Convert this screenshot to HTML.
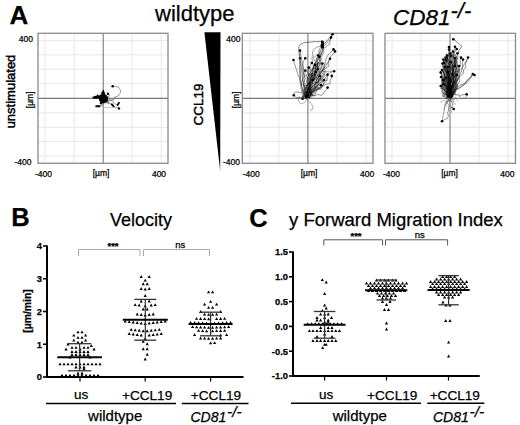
<!DOCTYPE html>
<html><head><meta charset="utf-8"><style>
html,body{margin:0;padding:0;background:#fff;overflow:hidden;}
svg{display:block;font-family:"Liberation Sans", sans-serif;}
text{stroke:#000;stroke-width:.25px;}
.med{stroke-width:.45px;}
</style></head><body>
<svg width="520" height="425" viewBox="0 0 520 425">
<rect width="520" height="425" fill="#fff"/>
<line x1="45.2" y1="33.3" x2="45.2" y2="163.3" stroke="#ebebeb" stroke-width="1.2"/>
<line x1="74.2" y1="33.3" x2="74.2" y2="163.3" stroke="#ebebeb" stroke-width="1.2"/>
<line x1="132.2" y1="33.3" x2="132.2" y2="163.3" stroke="#ebebeb" stroke-width="1.2"/>
<line x1="161.2" y1="33.3" x2="161.2" y2="163.3" stroke="#ebebeb" stroke-width="1.2"/>
<line x1="38" y1="40.7" x2="168" y2="40.7" stroke="#ebebeb" stroke-width="1.2"/>
<line x1="38" y1="54.9" x2="168" y2="54.9" stroke="#ebebeb" stroke-width="1.2"/>
<line x1="38" y1="69.1" x2="168" y2="69.1" stroke="#ebebeb" stroke-width="1.2"/>
<line x1="38" y1="83.5" x2="168" y2="83.5" stroke="#ebebeb" stroke-width="1.2"/>
<line x1="38" y1="112.9" x2="168" y2="112.9" stroke="#ebebeb" stroke-width="1.2"/>
<line x1="38" y1="127.3" x2="168" y2="127.3" stroke="#ebebeb" stroke-width="1.2"/>
<line x1="38" y1="141.6" x2="168" y2="141.6" stroke="#ebebeb" stroke-width="1.2"/>
<line x1="38" y1="155.9" x2="168" y2="155.9" stroke="#ebebeb" stroke-width="1.2"/>
<line x1="103.2" y1="33.3" x2="103.2" y2="163.3" stroke="#7a7a7a" stroke-width="1.1"/>
<line x1="38" y1="98.4" x2="168" y2="98.4" stroke="#7a7a7a" stroke-width="1.1"/>
<rect x="38" y="33.3" width="130" height="130" fill="none" stroke="#8a8a8a" stroke-width="1.3"/>
<line x1="249.9" y1="33.3" x2="249.9" y2="163.3" stroke="#ebebeb" stroke-width="1.2"/>
<line x1="278.9" y1="33.3" x2="278.9" y2="163.3" stroke="#ebebeb" stroke-width="1.2"/>
<line x1="336.9" y1="33.3" x2="336.9" y2="163.3" stroke="#ebebeb" stroke-width="1.2"/>
<line x1="365.9" y1="33.3" x2="365.9" y2="163.3" stroke="#ebebeb" stroke-width="1.2"/>
<line x1="242.3" y1="40.7" x2="373.0" y2="40.7" stroke="#ebebeb" stroke-width="1.2"/>
<line x1="242.3" y1="54.9" x2="373.0" y2="54.9" stroke="#ebebeb" stroke-width="1.2"/>
<line x1="242.3" y1="69.1" x2="373.0" y2="69.1" stroke="#ebebeb" stroke-width="1.2"/>
<line x1="242.3" y1="83.5" x2="373.0" y2="83.5" stroke="#ebebeb" stroke-width="1.2"/>
<line x1="242.3" y1="112.9" x2="373.0" y2="112.9" stroke="#ebebeb" stroke-width="1.2"/>
<line x1="242.3" y1="127.3" x2="373.0" y2="127.3" stroke="#ebebeb" stroke-width="1.2"/>
<line x1="242.3" y1="141.6" x2="373.0" y2="141.6" stroke="#ebebeb" stroke-width="1.2"/>
<line x1="242.3" y1="155.9" x2="373.0" y2="155.9" stroke="#ebebeb" stroke-width="1.2"/>
<line x1="307.9" y1="33.3" x2="307.9" y2="163.3" stroke="#7a7a7a" stroke-width="1.1"/>
<line x1="242.3" y1="98.4" x2="373.0" y2="98.4" stroke="#7a7a7a" stroke-width="1.1"/>
<rect x="242.3" y="33.3" width="130.7" height="130" fill="none" stroke="#8a8a8a" stroke-width="1.3"/>
<line x1="392.0" y1="33.3" x2="392.0" y2="163.3" stroke="#ebebeb" stroke-width="1.2"/>
<line x1="421.0" y1="33.3" x2="421.0" y2="163.3" stroke="#ebebeb" stroke-width="1.2"/>
<line x1="479.0" y1="33.3" x2="479.0" y2="163.3" stroke="#ebebeb" stroke-width="1.2"/>
<line x1="508.0" y1="33.3" x2="508.0" y2="163.3" stroke="#ebebeb" stroke-width="1.2"/>
<line x1="385" y1="40.7" x2="515.5" y2="40.7" stroke="#ebebeb" stroke-width="1.2"/>
<line x1="385" y1="54.9" x2="515.5" y2="54.9" stroke="#ebebeb" stroke-width="1.2"/>
<line x1="385" y1="69.1" x2="515.5" y2="69.1" stroke="#ebebeb" stroke-width="1.2"/>
<line x1="385" y1="83.5" x2="515.5" y2="83.5" stroke="#ebebeb" stroke-width="1.2"/>
<line x1="385" y1="112.9" x2="515.5" y2="112.9" stroke="#ebebeb" stroke-width="1.2"/>
<line x1="385" y1="127.3" x2="515.5" y2="127.3" stroke="#ebebeb" stroke-width="1.2"/>
<line x1="385" y1="141.6" x2="515.5" y2="141.6" stroke="#ebebeb" stroke-width="1.2"/>
<line x1="385" y1="155.9" x2="515.5" y2="155.9" stroke="#ebebeb" stroke-width="1.2"/>
<line x1="450" y1="33.3" x2="450" y2="163.3" stroke="#7a7a7a" stroke-width="1.1"/>
<line x1="385" y1="98.4" x2="515.5" y2="98.4" stroke="#7a7a7a" stroke-width="1.1"/>
<rect x="385" y="33.3" width="130.5" height="130" fill="none" stroke="#8a8a8a" stroke-width="1.3"/>
<path d="M112.7,86.2 Q121,86 120.5,92.6 Q119,97 114,97.5" fill="none" stroke="#555" stroke-width="0.6"/>
<path d="M99.5,106.3 Q104,106 104.5,102" fill="none" stroke="#666" stroke-width="0.6"/>
<path d="M104,107.5 L118,107.8" stroke="#aaa" stroke-width="0.6"/>
<path d="M104,101 Q110,102 114,99 Q117,97 114,97.5" fill="none" stroke="#888" stroke-width="0.6"/>
<path d="M104.0,99.0 L105.6,101.1 L107.2,101.6 L107.5,102.3 L111.8,104.3" fill="none" stroke="#666" stroke-width="0.5" stroke-opacity="1.0" stroke-linejoin="round"/>
<path d="M104.0,99.0 L109.3,100.1 L113.4,101.1 L113.3,103.4 L117.6,105.0" fill="none" stroke="#666" stroke-width="0.5" stroke-opacity="1.0" stroke-linejoin="round"/>
<path d="M104.0,99.0 L105.2,99.3 L108.1,102.2 L113.3,106.0 L119.0,108.5" fill="none" stroke="#666" stroke-width="0.5" stroke-opacity="1.0" stroke-linejoin="round"/>
<path d="M104.0,99.0 L105.8,98.8 L105.7,101.2 L108.0,102.5 L108.0,100.0" fill="none" stroke="#666" stroke-width="0.5" stroke-opacity="1.0" stroke-linejoin="round"/>
<path d="M104.0,99.0 L105.2,97.8 L108.3,97.4 L109.2,94.5 L110.0,96.0" fill="none" stroke="#666" stroke-width="0.5" stroke-opacity="1.0" stroke-linejoin="round"/>
<path d="M104.0,99.0 L104.1,100.7 L106.6,99.0 L108.4,102.9 L106.0,103.5" fill="none" stroke="#666" stroke-width="0.5" stroke-opacity="1.0" stroke-linejoin="round"/>
<path d="M104.0,99.0 L106.0,97.4 L109.2,97.3 L108.5,99.1 L112.0,101.0" fill="none" stroke="#666" stroke-width="0.5" stroke-opacity="1.0" stroke-linejoin="round"/>
<path d="M104.0,99.0 L108.5,101.1 L110.4,99.9 L113.3,100.1 L114.0,99.0" fill="none" stroke="#666" stroke-width="0.5" stroke-opacity="1.0" stroke-linejoin="round"/>
<path d="M104.0,99.0 L103.2,100.1 L106.8,98.1 L105.0,100.7 L109.0,104.0" fill="none" stroke="#666" stroke-width="0.5" stroke-opacity="1.0" stroke-linejoin="round"/>
<path d="M99.6,95 Q102,93.8 105,94.2 Q108.2,95.5 108,99 Q107.8,102.8 104,103.2 Q100.2,103.4 99.2,100.6 Q98.6,97.5 99.6,95 Z" fill="#000"/>
<path d="M92.2,97.4 Q93.5,95.6 96.5,95.8 L97.5,94.2 L98.6,95.6 L100.5,95.6 L100.5,98.6 L96,98.8 Q93,99 92.2,97.4 Z" fill="#000"/>
<path d="M101,93 L103.6,89.6 L105,93.2 L104.6,95.4 L102.4,95.4 Z" fill="#000"/>
<circle cx="107.9" cy="93.8" r="1.2" fill="#000"/>
<circle cx="112.7" cy="86.2" r="1.3" fill="#000"/>
<path d="M96.2,106.2 L99.6,106.2" stroke="#000" stroke-width="1.9" stroke-linecap="round"/>
<path d="M111.8,104.3 L113.6,106.3" stroke="#000" stroke-width="1.8" stroke-linecap="round"/>
<path d="M117.6,105 L119,102.8" stroke="#000" stroke-width="1.8" stroke-linecap="round"/>
<circle cx="119" cy="108.5" r="1.2" fill="#000"/>
<circle cx="101.1" cy="103.3" r="1.2" fill="#000"/>
<path d="M306.0,97.8 L309.4,95.3 L311.0,93.3 L315.3,91.7 L317.4,89.9 L315.3,89.7 L318.4,87.9" fill="none" stroke="#222" stroke-width="0.45" stroke-opacity="0.55" stroke-linejoin="round"/><path d="M318.4,87.9 L316.3,82.1 L319.9,73.8 L321.5,71.4 L320.8,70.1 L323.8,65.3 L326.4,62.1" fill="none" stroke="#222" stroke-width="0.45" stroke-opacity="0.55" stroke-linejoin="round"/>
<path d="M304.5,97.3 L303.3,96.9 L306.9,93.7 L304.7,91.1 L305.1,88.1 L308.5,83.7 L311.7,78.7" fill="none" stroke="#222" stroke-width="0.45" stroke-opacity="0.55" stroke-linejoin="round"/><path d="M311.7,78.7 L311.4,76.3 L314.9,74.4 L316.9,70.9 L318.5,68.4 L319.4,65.3 L321.8,61.6" fill="none" stroke="#222" stroke-width="0.45" stroke-opacity="0.55" stroke-linejoin="round"/>
<path d="M307.0,96.8 L307.3,95.3 L306.9,92.8 L311.0,84.2 L309.0,81.4 L310.2,78.5 L309.6,76.5" fill="none" stroke="#222" stroke-width="0.45" stroke-opacity="0.55" stroke-linejoin="round"/><path d="M309.6,76.5 L310.3,76.2 L315.3,77.7 L314.3,78.2 L313.9,78.8 L308.4,78.5 L310.5,76.9" fill="none" stroke="#222" stroke-width="0.45" stroke-opacity="0.55" stroke-linejoin="round"/>
<path d="M306.6,98.1 L306.0,97.0 L308.3,89.2 L310.6,83.9 L312.0,78.5 L312.4,78.6 L312.2,76.6" fill="none" stroke="#222" stroke-width="0.45" stroke-opacity="0.55" stroke-linejoin="round"/><path d="M312.2,76.6 L312.1,76.3 L310.2,78.8 L310.7,77.6 L314.6,74.6 L314.8,73.5 L313.3,74.3" fill="none" stroke="#222" stroke-width="0.45" stroke-opacity="0.55" stroke-linejoin="round"/>
<path d="M307.9,97.5 L305.8,90.4 L308.4,87.8 L311.4,81.8 L311.4,75.4 L313.0,74.6 L311.1,73.7" fill="none" stroke="#222" stroke-width="0.45" stroke-opacity="0.55" stroke-linejoin="round"/><path d="M311.1,73.7 L314.4,73.4 L311.6,76.4 L312.6,75.3 L314.7,76.3 L318.9,74.3 L322.5,77.5" fill="none" stroke="#222" stroke-width="0.45" stroke-opacity="0.55" stroke-linejoin="round"/>
<path d="M305.0,96.5 L311.8,93.0 L311.1,89.1 L311.2,87.8 L315.7,83.5 L319.6,82.2 L323.7,81.8" fill="none" stroke="#222" stroke-width="0.45" stroke-opacity="0.55" stroke-linejoin="round"/><path d="M323.7,81.8 L323.9,80.6 L327.3,80.5 L326.3,78.9 L322.8,73.3 L319.2,72.1 L317.0,68.7" fill="none" stroke="#222" stroke-width="0.45" stroke-opacity="0.55" stroke-linejoin="round"/>
<path d="M304.5,98.1 L307.9,94.9 L309.7,87.1 L310.9,84.0 L309.8,77.6 L314.1,73.9 L316.4,70.3" fill="none" stroke="#222" stroke-width="0.45" stroke-opacity="0.55" stroke-linejoin="round"/><path d="M316.4,70.3 L318.5,67.1 L317.1,65.0 L320.8,63.1 L320.7,60.7 L319.4,59.6 L318.8,59.6" fill="none" stroke="#222" stroke-width="0.45" stroke-opacity="0.55" stroke-linejoin="round"/>
<path d="M308.3,97.0 L304.5,94.1 L305.9,92.1 L308.3,92.5 L310.4,92.1 L313.9,92.3 L315.6,86.9" fill="none" stroke="#222" stroke-width="0.45" stroke-opacity="0.55" stroke-linejoin="round"/><path d="M315.6,86.9 L317.5,87.2 L317.0,83.9 L321.0,77.9 L321.9,80.5 L320.1,79.5 L324.0,76.9" fill="none" stroke="#222" stroke-width="0.45" stroke-opacity="0.55" stroke-linejoin="round"/>
<path d="M305.3,97.1 L305.3,94.4 L303.3,91.4 L305.3,89.3 L303.6,85.3 L309.2,85.4 L310.6,77.8" fill="none" stroke="#222" stroke-width="0.45" stroke-opacity="0.55" stroke-linejoin="round"/><path d="M310.6,77.8 L312.8,75.2 L317.2,72.4 L318.0,69.9 L315.0,68.4 L316.6,63.4 L320.3,63.5" fill="none" stroke="#222" stroke-width="0.45" stroke-opacity="0.55" stroke-linejoin="round"/>
<path d="M307.3,97.4 L312.7,96.7 L311.5,91.1 L316.1,90.3 L321.0,89.2 L320.4,86.9 L317.1,82.6" fill="none" stroke="#222" stroke-width="0.45" stroke-opacity="0.55" stroke-linejoin="round"/><path d="M317.1,82.6 L316.1,79.0 L313.7,74.1 L313.8,70.1 L314.2,65.9 L312.6,62.8 L311.8,56.4" fill="none" stroke="#222" stroke-width="0.45" stroke-opacity="0.55" stroke-linejoin="round"/>
<path d="M305.5,96.5 L307.5,90.3 L310.7,88.7 L313.9,84.6 L317.1,79.0 L315.6,75.4 L316.0,73.2" fill="none" stroke="#222" stroke-width="0.45" stroke-opacity="0.55" stroke-linejoin="round"/><path d="M316.0,73.2 L314.4,65.2 L312.9,65.8 L312.7,60.4 L311.7,58.9 L313.3,56.6 L316.9,55.5" fill="none" stroke="#222" stroke-width="0.45" stroke-opacity="0.55" stroke-linejoin="round"/>
<path d="M308.0,97.8 L307.9,92.6 L307.6,88.0 L309.0,83.1 L308.9,81.6 L311.7,74.4 L312.1,72.9" fill="none" stroke="#222" stroke-width="0.45" stroke-opacity="0.55" stroke-linejoin="round"/><path d="M312.1,72.9 L310.8,74.3 L312.3,73.9 L309.3,73.8 L309.5,75.7 L310.5,75.4 L311.7,76.0" fill="none" stroke="#222" stroke-width="0.45" stroke-opacity="0.55" stroke-linejoin="round"/>
<path d="M306.8,97.6 L306.8,91.4 L305.9,84.0 L304.4,82.0 L305.5,78.7 L305.0,72.6 L308.7,70.4" fill="none" stroke="#222" stroke-width="0.45" stroke-opacity="0.55" stroke-linejoin="round"/><path d="M308.7,70.4 L312.6,68.6 L313.9,64.9 L317.3,66.7 L315.1,66.6 L318.1,63.0 L316.1,60.8" fill="none" stroke="#222" stroke-width="0.45" stroke-opacity="0.55" stroke-linejoin="round"/>
<path d="M305.0,97.2 L311.0,97.8 L311.2,95.0 L311.9,91.1 L314.7,89.3 L318.6,84.3 L318.9,82.5" fill="none" stroke="#222" stroke-width="0.45" stroke-opacity="0.55" stroke-linejoin="round"/><path d="M318.9,82.5 L318.1,78.8 L317.5,74.2 L318.5,71.8 L317.9,67.4 L317.0,58.8 L314.6,55.8" fill="none" stroke="#222" stroke-width="0.45" stroke-opacity="0.55" stroke-linejoin="round"/>
<path d="M307.1,96.7 L309.5,96.2 L310.9,92.8 L312.0,91.0 L315.0,89.9 L315.0,85.5 L315.7,82.3" fill="none" stroke="#222" stroke-width="0.45" stroke-opacity="0.55" stroke-linejoin="round"/><path d="M315.7,82.3 L313.8,81.1 L313.3,80.4 L314.8,78.6 L319.9,76.9 L322.6,76.2 L325.3,70.4" fill="none" stroke="#222" stroke-width="0.45" stroke-opacity="0.55" stroke-linejoin="round"/>
<path d="M305.3,97.7 L307.5,95.5 L309.2,91.1 L310.9,84.8 L313.9,78.6 L315.0,78.9 L315.2,74.8" fill="none" stroke="#222" stroke-width="0.45" stroke-opacity="0.55" stroke-linejoin="round"/><path d="M315.2,74.8 L316.7,74.7 L314.2,75.1 L314.5,76.4 L312.0,79.8 L314.5,79.7 L314.2,78.6" fill="none" stroke="#222" stroke-width="0.45" stroke-opacity="0.55" stroke-linejoin="round"/>
<path d="M306.0,97.3 L311.0,93.0 L311.8,90.5 L314.0,86.9 L319.4,85.0 L320.6,85.4 L322.8,82.8" fill="none" stroke="#222" stroke-width="0.45" stroke-opacity="0.55" stroke-linejoin="round"/><path d="M322.8,82.8 L322.9,79.9 L320.6,80.8 L324.8,75.5 L323.1,69.4 L326.8,65.7 L328.0,62.2" fill="none" stroke="#222" stroke-width="0.45" stroke-opacity="0.55" stroke-linejoin="round"/>
<path d="M305.6,96.6 L309.5,92.9 L310.5,90.1 L312.4,90.1 L316.8,86.7 L318.8,82.0 L319.7,78.1" fill="none" stroke="#222" stroke-width="0.45" stroke-opacity="0.55" stroke-linejoin="round"/><path d="M319.7,78.1 L320.3,77.5 L321.5,80.2 L320.1,78.6 L325.8,73.2 L324.7,71.9 L325.1,71.1" fill="none" stroke="#222" stroke-width="0.45" stroke-opacity="0.55" stroke-linejoin="round"/>
<path d="M305.7,97.0 L304.9,90.5 L307.6,83.7 L308.3,79.9 L309.8,76.1 L313.8,71.7 L317.3,66.6" fill="none" stroke="#000" stroke-width="0.5" stroke-opacity="0.8" stroke-linejoin="round"/><path d="M317.3,66.6 L317.3,61.1 L320.6,54.7 L323.0,50.6 L323.9,46.3 L329.8,39.9 L332.6,34.2" fill="none" stroke="#000" stroke-width="0.5" stroke-opacity="0.8" stroke-linejoin="round"/><circle cx="332.6" cy="34.2" r="1.3" fill="#000"/>
<path d="M307.7,97.4 L309.2,93.2 L307.5,91.6 L310.7,84.3 L313.5,79.8 L315.9,76.3 L314.7,71.7" fill="none" stroke="#000" stroke-width="0.5" stroke-opacity="0.8" stroke-linejoin="round"/><path d="M314.7,71.7 L319.9,64.8 L320.6,56.6 L320.9,51.3 L326.5,46.3 L329.4,44.4 L331.0,37.4" fill="none" stroke="#000" stroke-width="0.5" stroke-opacity="0.8" stroke-linejoin="round"/><circle cx="331.0" cy="37.4" r="1.3" fill="#000"/>
<path d="M306.9,97.9 L308.4,93.5 L307.0,88.3 L306.9,84.3 L307.7,79.4 L308.0,76.4 L311.4,70.9" fill="none" stroke="#000" stroke-width="0.5" stroke-opacity="0.8" stroke-linejoin="round"/><path d="M311.4,70.9 L314.7,64.7 L316.6,61.1 L321.1,55.5 L322.8,50.9 L321.8,46.0 L322.4,41.8" fill="none" stroke="#000" stroke-width="0.5" stroke-opacity="0.8" stroke-linejoin="round"/><circle cx="322.4" cy="41.8" r="1.3" fill="#000"/>
<path d="M305.7,96.6 L306.1,95.5 L307.0,91.7 L309.3,86.2 L309.5,83.4 L312.4,80.4 L314.4,76.6" fill="none" stroke="#000" stroke-width="0.5" stroke-opacity="0.8" stroke-linejoin="round"/><path d="M314.4,76.6 L316.6,73.2 L317.1,71.1 L317.6,64.8 L319.6,60.3 L319.0,50.2 L321.8,45.3" fill="none" stroke="#000" stroke-width="0.5" stroke-opacity="0.8" stroke-linejoin="round"/><circle cx="321.8" cy="45.3" r="1.3" fill="#000"/>
<path d="M305.4,96.6 L307.0,94.9 L309.9,90.4 L309.1,81.9 L310.5,78.9 L312.1,80.4 L312.0,77.6" fill="none" stroke="#000" stroke-width="0.5" stroke-opacity="0.8" stroke-linejoin="round"/><path d="M312.0,77.6 L312.9,70.9 L313.5,66.8 L315.4,61.6 L316.8,58.0 L319.5,52.5 L322.5,47.0" fill="none" stroke="#000" stroke-width="0.5" stroke-opacity="0.8" stroke-linejoin="round"/><circle cx="322.5" cy="47.0" r="1.3" fill="#000"/>
<path d="M307.5,97.4 L311.6,93.7 L310.9,92.3 L313.7,89.7 L316.2,85.1 L315.6,82.6 L317.8,77.8" fill="none" stroke="#000" stroke-width="0.5" stroke-opacity="0.8" stroke-linejoin="round"/><path d="M317.8,77.8 L320.5,73.4 L323.8,68.1 L325.8,59.7 L327.1,56.3 L331.6,51.1 L333.5,49.4" fill="none" stroke="#000" stroke-width="0.5" stroke-opacity="0.8" stroke-linejoin="round"/><circle cx="333.5" cy="49.4" r="1.3" fill="#000"/>
<path d="M305.0,98.0 L308.7,92.8 L310.6,88.7 L312.3,86.7 L318.1,81.6 L318.6,78.5 L318.2,75.4" fill="none" stroke="#000" stroke-width="0.5" stroke-opacity="0.8" stroke-linejoin="round"/><path d="M318.2,75.4 L321.8,71.9 L325.3,66.2 L329.2,60.5 L330.5,56.5 L332.3,55.1 L335.0,51.4" fill="none" stroke="#000" stroke-width="0.5" stroke-opacity="0.8" stroke-linejoin="round"/><circle cx="335.0" cy="51.4" r="1.3" fill="#000"/>
<path d="M304.9,97.5 L304.3,91.4 L303.7,85.6 L302.8,79.6 L303.0,73.7 L302.7,67.9 L302.2,62.1 L300.9,56.3 L300.0,50.6" fill="none" stroke="#000" stroke-width="0.5" stroke-opacity="0.8" stroke-linejoin="round"/><circle cx="300.0" cy="50.6" r="1.3" fill="#000"/>
<path d="M305.3,97.5 L303.4,92.5 L302.0,87.2 L300.4,82.4 L299.2,77.6 L297.3,72.9 L295.9,68.0 L294.4,63.8 L293.5,60.0" fill="none" stroke="#000" stroke-width="0.5" stroke-opacity="0.8" stroke-linejoin="round"/><circle cx="293.5" cy="60.0" r="1.3" fill="#000"/>
<path d="M305.7,97.5 L304.7,93.0 L304.4,88.1 L303.8,84.0 L302.3,78.0 L301.9,73.4 L301.5,67.8 L300.8,62.9 L300.0,58.2" fill="none" stroke="#000" stroke-width="0.5" stroke-opacity="0.8" stroke-linejoin="round"/><circle cx="300.0" cy="58.2" r="1.3" fill="#000"/>
<path d="M306.7,98.4 L304.3,98.3 L303.0,96.1 L303.7,89.2 L305.7,88.1 L304.8,84.6 L304.1,82.7" fill="none" stroke="#000" stroke-width="0.5" stroke-opacity="0.8" stroke-linejoin="round"/><path d="M304.1,82.7 L304.9,78.7 L303.2,72.0 L303.7,67.0 L302.9,64.2 L303.9,60.4 L305.3,58.2" fill="none" stroke="#000" stroke-width="0.5" stroke-opacity="0.8" stroke-linejoin="round"/><circle cx="305.3" cy="58.2" r="1.3" fill="#000"/>
<path d="M305.3,97.3 L304.4,93.2 L306.9,90.5 L307.8,85.4 L309.0,83.6 L312.0,79.9 L312.1,75.9" fill="none" stroke="#000" stroke-width="0.5" stroke-opacity="0.8" stroke-linejoin="round"/><path d="M312.1,75.9 L309.7,73.9 L312.1,70.1 L313.7,69.1 L314.5,65.6 L316.7,60.7 L318.2,55.3" fill="none" stroke="#000" stroke-width="0.5" stroke-opacity="0.8" stroke-linejoin="round"/><circle cx="318.2" cy="55.3" r="1.3" fill="#000"/>
<path d="M305.5,96.5 L305.2,92.9 L308.0,89.7 L308.9,85.7 L310.0,82.9 L311.7,82.2 L314.6,79.0" fill="none" stroke="#000" stroke-width="0.5" stroke-opacity="0.8" stroke-linejoin="round"/><path d="M314.6,79.0 L311.5,74.5 L312.8,69.4 L316.0,67.8 L318.2,62.7 L322.2,59.2 L319.4,57.0" fill="none" stroke="#000" stroke-width="0.5" stroke-opacity="0.8" stroke-linejoin="round"/><circle cx="319.4" cy="57.0" r="1.3" fill="#000"/>
<path d="M305.5,98.1 L307.8,96.4 L311.7,90.1 L314.2,87.7 L314.4,85.5 L315.8,82.6 L317.8,82.0" fill="none" stroke="#000" stroke-width="0.5" stroke-opacity="0.8" stroke-linejoin="round"/><path d="M317.8,82.0 L320.3,77.5 L319.6,72.2 L325.0,68.8 L328.9,66.2 L328.6,61.2 L330.0,58.8" fill="none" stroke="#000" stroke-width="0.5" stroke-opacity="0.8" stroke-linejoin="round"/><circle cx="330.0" cy="58.8" r="1.3" fill="#000"/>
<path d="M307.0,97.4 L307.0,94.5 L305.8,90.1 L306.4,90.1 L307.1,85.1 L308.3,84.0 L309.4,81.5" fill="none" stroke="#000" stroke-width="0.5" stroke-opacity="0.8" stroke-linejoin="round"/><path d="M309.4,81.5 L308.3,78.5 L305.9,75.9 L308.0,73.1 L310.2,71.2 L310.2,65.7 L311.8,63.0" fill="none" stroke="#000" stroke-width="0.5" stroke-opacity="0.8" stroke-linejoin="round"/><circle cx="311.8" cy="63.0" r="1.3" fill="#000"/>
<path d="M305.4,98.2 L307.7,95.9 L307.5,92.6 L308.9,90.2 L312.0,86.9 L313.0,87.4 L312.9,84.9" fill="none" stroke="#000" stroke-width="0.5" stroke-opacity="0.8" stroke-linejoin="round"/><path d="M312.9,84.9 L312.4,81.8 L315.7,79.4 L316.4,77.1 L319.0,73.1 L321.3,67.0 L322.4,63.5" fill="none" stroke="#000" stroke-width="0.5" stroke-opacity="0.8" stroke-linejoin="round"/><circle cx="322.4" cy="63.5" r="1.3" fill="#000"/>
<path d="M305.5,96.8 L308.8,93.4 L310.4,90.3 L311.3,87.0 L309.5,84.1 L307.9,84.5 L306.4,81.3" fill="none" stroke="#000" stroke-width="0.5" stroke-opacity="0.8" stroke-linejoin="round"/><path d="M306.4,81.3 L307.7,77.7 L310.8,74.7 L308.9,73.7 L308.9,76.2 L308.0,72.5 L308.8,67.6" fill="none" stroke="#000" stroke-width="0.5" stroke-opacity="0.8" stroke-linejoin="round"/><circle cx="308.8" cy="67.6" r="1.3" fill="#000"/>
<path d="M305.1,98.1 L305.4,97.7 L308.1,94.5 L307.6,90.2 L308.4,87.3 L310.2,86.3 L308.5,84.2" fill="none" stroke="#000" stroke-width="0.5" stroke-opacity="0.8" stroke-linejoin="round"/><path d="M308.5,84.2 L310.8,80.0 L312.6,78.9 L314.2,75.2 L315.2,72.2 L315.9,69.6 L315.3,64.7" fill="none" stroke="#000" stroke-width="0.5" stroke-opacity="0.8" stroke-linejoin="round"/><circle cx="315.3" cy="64.7" r="1.3" fill="#000"/>
<path d="M306.4,96.8 L307.6,95.5 L308.0,95.3 L305.5,91.8 L305.8,89.2 L305.7,88.7 L304.2,86.1" fill="none" stroke="#000" stroke-width="0.5" stroke-opacity="0.8" stroke-linejoin="round"/><path d="M304.2,86.1 L304.0,85.3 L301.4,83.8 L302.6,79.5 L304.4,76.2 L303.9,72.9 L305.3,70.6" fill="none" stroke="#000" stroke-width="0.5" stroke-opacity="0.8" stroke-linejoin="round"/><circle cx="305.3" cy="70.6" r="1.3" fill="#000"/>
<path d="M306.7,98.4 L309.7,97.2 L310.4,93.8 L310.7,89.1 L313.7,88.4 L315.9,86.8 L320.6,82.7" fill="none" stroke="#000" stroke-width="0.5" stroke-opacity="0.8" stroke-linejoin="round"/><path d="M320.6,82.7 L322.8,80.7 L326.7,76.4 L326.0,75.2 L327.0,73.7 L330.3,72.7 L334.1,71.2" fill="none" stroke="#000" stroke-width="0.5" stroke-opacity="0.8" stroke-linejoin="round"/><circle cx="334.1" cy="71.2" r="1.3" fill="#000"/>
<path d="M307.5,97.9 L309.9,98.0 L309.5,97.1 L310.6,94.8 L310.3,89.0 L313.6,90.4 L317.5,88.4" fill="none" stroke="#000" stroke-width="0.5" stroke-opacity="0.8" stroke-linejoin="round"/><path d="M317.5,88.4 L319.1,88.7 L323.3,84.9 L322.9,85.5 L323.7,84.0 L327.2,79.9 L327.6,74.7" fill="none" stroke="#000" stroke-width="0.5" stroke-opacity="0.8" stroke-linejoin="round"/><circle cx="327.6" cy="74.7" r="1.3" fill="#000"/>
<path d="M307.5,97.9 L310.7,95.3 L312.2,91.8 L313.7,91.9 L315.2,90.2 L318.0,88.6 L320.8,87.6" fill="none" stroke="#000" stroke-width="0.5" stroke-opacity="0.8" stroke-linejoin="round"/><path d="M320.8,87.6 L323.9,85.5 L325.8,84.4 L330.2,83.7 L330.0,80.3 L331.6,78.2 L331.8,75.9" fill="none" stroke="#000" stroke-width="0.5" stroke-opacity="0.8" stroke-linejoin="round"/><circle cx="331.8" cy="75.9" r="1.3" fill="#000"/>
<path d="M307.7,96.6 L310.3,93.9 L311.0,93.8 L311.1,94.8 L314.4,95.8 L315.3,93.6 L316.3,91.5" fill="none" stroke="#000" stroke-width="0.5" stroke-opacity="0.8" stroke-linejoin="round"/><path d="M316.3,91.5 L317.1,89.8 L320.5,88.9 L321.9,87.8 L322.6,85.4 L323.5,84.3 L324.1,80.0" fill="none" stroke="#000" stroke-width="0.5" stroke-opacity="0.8" stroke-linejoin="round"/><circle cx="324.1" cy="80.0" r="1.3" fill="#000"/>
<path d="M306.5,98.2 L307.4,97.1 L306.9,97.4 L308.4,95.0 L309.0,92.1 L310.9,94.8 L314.9,95.8" fill="none" stroke="#000" stroke-width="0.5" stroke-opacity="0.8" stroke-linejoin="round"/><path d="M314.9,95.8 L317.5,94.2 L320.9,95.4 L323.5,93.7 L323.9,92.1 L326.8,89.3 L327.6,87.6" fill="none" stroke="#000" stroke-width="0.5" stroke-opacity="0.8" stroke-linejoin="round"/><circle cx="327.6" cy="87.6" r="1.3" fill="#000"/>
<path d="M306.5,97.5 L304.6,96.6 L303.2,96.1 L301.3,97.8 L298.4,97.7 L295.7,97.3 L293.8,95.3" fill="none" stroke="#000" stroke-width="0.5" stroke-opacity="0.8" stroke-linejoin="round"/><circle cx="293.8" cy="95.3" r="1.3" fill="#000"/>
<path d="M306.5,97.5 L306.2,95.2 L304.7,95.6 L301.9,96.6 L303.4,97.3 L303.5,96.8 L302.6,98.8" fill="none" stroke="#000" stroke-width="0.5" stroke-opacity="0.8" stroke-linejoin="round"/><circle cx="302.6" cy="98.8" r="1.3" fill="#000"/>
<path d="M307.7,97.0 L306.4,96.6 L307.3,92.7 L307.2,90.4 L307.6,90.4 L310.0,87.3 L310.8,85.3" fill="none" stroke="#000" stroke-width="0.5" stroke-opacity="0.8" stroke-linejoin="round"/><path d="M310.8,85.3 L310.0,83.5 L311.3,80.1 L309.8,78.0 L312.1,76.2 L313.3,75.8 L316.0,72.0" fill="none" stroke="#000" stroke-width="0.5" stroke-opacity="0.8" stroke-linejoin="round"/><circle cx="316.0" cy="72.0" r="1.3" fill="#000"/>
<path d="M306.0,97.5 L307.5,96.1 L310.1,97.9 L310.6,94.2 L312.1,91.3 L309.0,91.9 L310.5,86.3" fill="none" stroke="#000" stroke-width="0.5" stroke-opacity="0.8" stroke-linejoin="round"/><path d="M310.5,86.3 L311.2,85.2 L312.4,82.9 L314.7,83.1 L318.3,81.9 L320.8,77.6 L320.0,76.0" fill="none" stroke="#000" stroke-width="0.5" stroke-opacity="0.8" stroke-linejoin="round"/><circle cx="320.0" cy="76.0" r="1.3" fill="#000"/>
<path d="M306.8,97.3 L307.1,93.0 L305.5,93.6 L306.0,91.3 L307.0,93.7 L309.8,91.2 L309.2,87.5" fill="none" stroke="#000" stroke-width="0.5" stroke-opacity="0.8" stroke-linejoin="round"/><path d="M309.2,87.5 L309.8,84.2 L310.0,83.6 L311.2,82.0 L310.2,82.6 L311.3,79.1 L313.0,80.0" fill="none" stroke="#000" stroke-width="0.5" stroke-opacity="0.8" stroke-linejoin="round"/><circle cx="313.0" cy="80.0" r="1.3" fill="#000"/>
<path d="M306.2,97.9 L308.5,96.3 L307.9,92.7 L307.5,93.0 L309.2,91.9 L309.4,90.6 L311.4,85.4" fill="none" stroke="#000" stroke-width="0.5" stroke-opacity="0.8" stroke-linejoin="round"/><path d="M311.4,85.4 L312.7,83.6 L312.8,81.0 L314.5,77.2 L314.4,73.0 L314.7,71.1 L318.0,69.0" fill="none" stroke="#000" stroke-width="0.5" stroke-opacity="0.8" stroke-linejoin="round"/><circle cx="318.0" cy="69.0" r="1.3" fill="#000"/>
<path d="M307.3,96.7 L310.0,95.5 L312.4,94.9 L313.2,93.9 L312.7,93.8 L313.2,91.1 L314.1,91.2" fill="none" stroke="#000" stroke-width="0.5" stroke-opacity="0.8" stroke-linejoin="round"/><path d="M314.1,91.2 L315.3,87.6 L315.4,88.0 L317.4,86.9 L319.0,88.5 L321.0,85.9 L321.0,85.0" fill="none" stroke="#000" stroke-width="0.5" stroke-opacity="0.8" stroke-linejoin="round"/><circle cx="321.0" cy="85.0" r="1.3" fill="#000"/>
<path d="M304,96 Q299,80 300.5,62 Q298.5,52 298.8,46.5 Q300,43 306,42.5 Q314,41.5 322,41.5" fill="none" stroke="#333" stroke-width="0.6"/>
<path d="M303,97 Q298,80 300,50.6" fill="none" stroke="#444" stroke-width="0.5"/>
<path d="M322,46 Q313,47 312.5,53 Q313,60 316,62 Q322,58 324,52 Q324,48 322,46" fill="none" stroke="#777" stroke-width="0.7"/>
<path d="M302,93 Q293,90 293.8,95.3" fill="none" stroke="#444" stroke-width="0.6"/>
<path d="M306,99 Q313,104 313,108 Q312,111 310,110" fill="none" stroke="#555" stroke-width="0.5"/>
<path d="M300,96 Q296,100 301,104 Q306,103 307,99" fill="none" stroke="#666" stroke-width="0.5"/>
<path d="M334.1,71.2 L322,71.5" fill="none" stroke="#555" stroke-width="0.5"/>
<path d="M332.6,34.2 L322.5,46" fill="none" stroke="#222" stroke-width="0.6"/>
<path d="M306,96 L308,84 L311,70 L315,62 L323,63 L326,72 L321,86 L312,97 Z" fill="#000" fill-opacity="0.15"/>
<path d="M321,40.5 L324,42 L324,48 L321,48.5 Z" fill="#000"/>
<path d="M450.3,97.0 L451.5,91.3 L449.7,83.9 L450.3,77.1 L449.7,73.4 L451.5,69.9 L449.7,66.7 L449.5,62.7 L449.3,58.8 L449.3,53.5 L449.0,47.0" fill="none" stroke="#000" stroke-width="0.5" stroke-opacity="0.85" stroke-linejoin="round"/><circle cx="449.0" cy="47.0" r="1.3" fill="#000"/>
<path d="M448.7,97.1 L447.3,93.0 L446.0,87.1 L443.9,85.2 L444.2,80.5 L445.6,73.5 L445.8,68.4 L446.8,62.4 L447.0,58.1 L449.0,53.2 L449.0,49.5" fill="none" stroke="#000" stroke-width="0.5" stroke-opacity="0.85" stroke-linejoin="round"/><circle cx="449.0" cy="49.5" r="1.3" fill="#000"/>
<path d="M448.2,97.0 L448.4,91.6 L450.1,90.0 L450.3,85.1 L451.7,79.9 L452.1,73.8 L454.0,68.2 L454.5,63.3 L453.8,57.6 L453.7,52.1 L455.0,46.8" fill="none" stroke="#000" stroke-width="0.5" stroke-opacity="0.85" stroke-linejoin="round"/><circle cx="455.0" cy="46.8" r="1.3" fill="#000"/>
<path d="M448.8,97.0 L450.6,93.2 L452.9,88.7 L454.6,84.9 L453.7,79.9 L454.5,74.8 L456.1,68.4 L455.0,62.6 L456.5,56.4 L454.2,53.1 L456.7,49.0" fill="none" stroke="#000" stroke-width="0.5" stroke-opacity="0.85" stroke-linejoin="round"/><circle cx="456.7" cy="49.0" r="1.3" fill="#000"/>
<path d="M450.7,96.6 L450.0,91.2 L452.1,86.7 L454.7,82.5 L452.6,78.8 L455.7,75.2 L455.8,70.3 L457.6,65.3 L456.8,61.6 L457.9,56.6 L457.5,53.2" fill="none" stroke="#000" stroke-width="0.5" stroke-opacity="0.85" stroke-linejoin="round"/><circle cx="457.5" cy="53.2" r="1.3" fill="#000"/>
<path d="M450.3,98.2 L450.1,96.0 L449.4,92.2 L449.7,89.2 L452.3,84.2 L453.2,78.3 L453.3,74.7 L452.1,68.9 L452.8,63.9 L452.9,56.3 L453.0,51.5" fill="none" stroke="#000" stroke-width="0.5" stroke-opacity="0.85" stroke-linejoin="round"/><circle cx="453.0" cy="51.5" r="1.3" fill="#000"/>
<path d="M449.0,96.5 L450.6,95.3 L449.5,89.9 L450.7,82.8 L449.7,77.4 L448.7,71.7 L447.4,66.4 L448.3,64.2 L446.5,60.7 L447.7,57.1 L450.5,53.5" fill="none" stroke="#000" stroke-width="0.5" stroke-opacity="0.85" stroke-linejoin="round"/><circle cx="450.5" cy="53.5" r="1.3" fill="#000"/>
<path d="M452.1,97.8 L450.3,95.2 L450.8,89.0 L450.7,85.6 L449.7,81.7 L447.9,78.0 L448.4,73.3 L448.0,68.6 L449.9,65.9 L447.2,59.9 L447.0,55.5" fill="none" stroke="#000" stroke-width="0.5" stroke-opacity="0.85" stroke-linejoin="round"/><circle cx="447.0" cy="55.5" r="1.3" fill="#000"/>
<path d="M449.4,97.7 L451.9,92.0 L449.4,88.0 L449.9,85.0 L449.0,81.5 L448.0,77.3 L446.6,72.5 L446.0,68.2 L445.4,63.4 L446.5,59.4 L445.5,57.5" fill="none" stroke="#000" stroke-width="0.5" stroke-opacity="0.85" stroke-linejoin="round"/><circle cx="445.5" cy="57.5" r="1.3" fill="#000"/>
<path d="M448.4,96.6 L447.7,91.5 L448.0,86.8 L448.6,84.8 L447.1,80.4 L447.0,77.0 L448.1,73.6 L447.3,70.7 L444.7,65.6 L444.7,63.3 L443.5,59.5" fill="none" stroke="#000" stroke-width="0.5" stroke-opacity="0.85" stroke-linejoin="round"/><circle cx="443.5" cy="59.5" r="1.3" fill="#000"/>
<path d="M451.8,97.5 L452.2,95.3 L450.0,91.9 L448.8,88.5 L448.3,84.5 L446.3,80.3 L444.2,78.3 L444.2,72.3 L443.7,67.9 L442.7,65.6 L444.0,62.6" fill="none" stroke="#000" stroke-width="0.5" stroke-opacity="0.85" stroke-linejoin="round"/><circle cx="444.0" cy="62.6" r="1.3" fill="#000"/>
<path d="M451.6,97.2 L447.9,92.1 L448.2,87.8 L447.0,86.5 L447.3,82.9 L445.9,78.5 L447.2,74.3 L446.5,71.7 L445.7,70.5 L442.9,66.4 L442.5,63.5" fill="none" stroke="#000" stroke-width="0.5" stroke-opacity="0.85" stroke-linejoin="round"/><circle cx="442.5" cy="63.5" r="1.3" fill="#000"/>
<path d="M451.7,98.1 L453.4,93.0 L453.5,92.0 L454.7,86.2 L456.4,81.8 L458.4,79.0 L459.2,74.3 L459.7,67.3 L460.4,65.5 L460.2,60.3 L461.0,57.6" fill="none" stroke="#000" stroke-width="0.5" stroke-opacity="0.85" stroke-linejoin="round"/><circle cx="461.0" cy="57.6" r="1.3" fill="#000"/>
<path d="M451.3,98.1 L452.0,94.8 L454.2,89.0 L455.8,87.4 L459.4,82.1 L459.2,78.5 L459.8,74.5 L461.4,71.8 L462.4,67.1 L462.4,63.1 L463.0,59.5" fill="none" stroke="#000" stroke-width="0.5" stroke-opacity="0.85" stroke-linejoin="round"/><circle cx="463.0" cy="59.5" r="1.3" fill="#000"/>
<path d="M447.7,98.5 L449.6,94.6 L450.4,88.4 L453.8,85.5 L455.2,82.5 L458.0,78.2 L463.2,73.6 L463.8,69.4 L466.0,67.4 L465.3,64.5 L468.0,57.6" fill="none" stroke="#000" stroke-width="0.5" stroke-opacity="0.85" stroke-linejoin="round"/><circle cx="468.0" cy="57.6" r="1.3" fill="#000"/>
<path d="M452.3,97.0 L451.6,94.4 L450.2,92.0 L450.2,89.7 L449.6,85.7 L450.9,81.8 L450.9,79.7 L448.7,77.2 L448.1,74.1 L444.7,70.4 L445.0,67.0" fill="none" stroke="#000" stroke-width="0.5" stroke-opacity="0.85" stroke-linejoin="round"/><circle cx="445.0" cy="67.0" r="1.3" fill="#000"/>
<path d="M449.5,97.4 L450.3,97.0 L450.1,93.5 L450.0,90.3 L447.0,89.3 L448.1,84.4 L449.3,81.7 L447.6,76.3 L446.9,72.8 L447.2,71.2 L448.0,67.0" fill="none" stroke="#000" stroke-width="0.5" stroke-opacity="0.85" stroke-linejoin="round"/><circle cx="448.0" cy="67.0" r="1.3" fill="#000"/>
<path d="M449.0,97.7 L450.5,94.4 L451.5,92.8 L454.2,91.3 L456.2,89.6 L459.0,88.6 L462.7,86.1 L464.3,83.9 L466.7,80.8 L470.7,77.1 L472.8,74.0" fill="none" stroke="#000" stroke-width="0.5" stroke-opacity="0.85" stroke-linejoin="round"/><circle cx="472.8" cy="74.0" r="1.3" fill="#000"/>
<path d="M449.7,96.7 L454.7,93.0 L456.1,89.3 L457.2,89.0 L457.8,86.7 L460.9,84.9 L465.5,83.2 L467.3,80.4 L470.5,77.0 L472.3,74.9 L474.5,75.0" fill="none" stroke="#000" stroke-width="0.5" stroke-opacity="0.85" stroke-linejoin="round"/><circle cx="474.5" cy="75.0" r="1.3" fill="#000"/>
<path d="M449.2,96.8 L446.4,95.4 L445.5,93.4 L444.4,91.8 L444.5,89.0 L443.4,89.1 L441.6,88.6 L440.5,88.3 L443.9,86.5 L442.9,84.7 L440.7,86.0" fill="none" stroke="#000" stroke-width="0.5" stroke-opacity="0.85" stroke-linejoin="round"/><circle cx="440.7" cy="86.0" r="1.3" fill="#000"/>
<path d="M447.8,98.0 L445.9,98.5 L447.6,95.5 L446.3,92.9 L448.1,89.8 L446.4,86.4 L442.7,84.4 L442.2,83.0 L441.9,80.5 L441.4,75.1 L440.7,72.4" fill="none" stroke="#000" stroke-width="0.5" stroke-opacity="0.85" stroke-linejoin="round"/><circle cx="440.7" cy="72.4" r="1.3" fill="#000"/>
<path d="M447.9,97.7 L448.4,97.1 L450.4,98.3 L451.3,95.1 L452.1,94.0 L455.7,94.3 L455.4,94.8 L459.3,95.0 L459.5,96.7 L462.1,94.8 L466.7,94.4" fill="none" stroke="#000" stroke-width="0.5" stroke-opacity="0.85" stroke-linejoin="round"/><circle cx="466.7" cy="94.4" r="1.3" fill="#000"/>
<path d="M449.9,98.2 L450.3,100.7 L451.4,101.1 L452.6,103.8 L453.0,105.2 L452.0,106.6 L451.8,108.1 L451.7,107.1 L453.0,107.7 L453.2,107.9 L453.7,109.0" fill="none" stroke="#000" stroke-width="0.5" stroke-opacity="0.85" stroke-linejoin="round"/><circle cx="453.7" cy="109.0" r="1.3" fill="#000"/>
<path d="M451.9,98.4 L449.2,100.6 L446.6,102.4 L449.3,105.0 L448.5,108.0 L448.4,110.8 L447.6,112.6 L448.4,115.9 L447.5,118.3 L445.1,119.4 L442.0,121.2" fill="none" stroke="#000" stroke-width="0.5" stroke-opacity="0.85" stroke-linejoin="round"/><circle cx="442.0" cy="121.2" r="1.3" fill="#000"/>
<path d="M448.0,98.2 L447.6,93.6 L448.5,90.4 L447.1,86.1 L447.8,82.9 L448.7,80.0 L449.0,75.1 L446.6,69.8 L447.6,67.8 L448.6,63.0 L446.0,60.0" fill="none" stroke="#000" stroke-width="0.5" stroke-opacity="0.85" stroke-linejoin="round"/><circle cx="446.0" cy="60.0" r="1.3" fill="#000"/>
<path d="M450.1,97.3 L452.4,92.8 L451.9,90.1 L451.2,87.8 L453.7,83.9 L455.9,79.0 L456.2,75.0 L452.8,71.0 L453.8,67.0 L452.1,64.3 L451.0,62.0" fill="none" stroke="#000" stroke-width="0.5" stroke-opacity="0.85" stroke-linejoin="round"/><circle cx="451.0" cy="62.0" r="1.3" fill="#000"/>
<path d="M447.8,97.4 L447.6,94.1 L450.1,93.7 L450.7,87.3 L449.1,82.2 L451.4,77.1 L453.4,74.3 L453.3,73.1 L453.1,71.6 L454.9,67.5 L455.0,66.0" fill="none" stroke="#000" stroke-width="0.5" stroke-opacity="0.85" stroke-linejoin="round"/><circle cx="455.0" cy="66.0" r="1.3" fill="#000"/>
<path d="M449.7,98.4 L449.5,96.6 L449.2,93.2 L446.4,88.3 L445.4,85.3 L443.8,82.7 L444.3,80.4 L445.2,78.3 L444.3,76.0 L444.5,73.7 L442.0,70.0" fill="none" stroke="#000" stroke-width="0.5" stroke-opacity="0.85" stroke-linejoin="round"/><circle cx="442.0" cy="70.0" r="1.3" fill="#000"/>
<path d="M450.5,97.6 L450.6,94.1 L450.7,89.8 L449.5,86.5 L448.8,83.9 L449.4,82.1 L448.6,79.2 L449.0,76.3 L447.9,75.7 L448.6,74.7 L448.0,72.0" fill="none" stroke="#000" stroke-width="0.5" stroke-opacity="0.85" stroke-linejoin="round"/><circle cx="448.0" cy="72.0" r="1.3" fill="#000"/>
<path d="M452.4,97.1 L452.4,93.9 L454.7,92.7 L454.1,90.4 L452.8,89.0 L452.5,86.0 L452.9,87.1 L452.6,83.9 L451.7,82.6 L450.7,78.5 L452.0,74.0" fill="none" stroke="#000" stroke-width="0.5" stroke-opacity="0.85" stroke-linejoin="round"/><circle cx="452.0" cy="74.0" r="1.3" fill="#000"/>
<path d="M450.1,98.0 L449.6,94.0 L446.9,92.7 L445.7,88.0 L447.3,88.4 L449.3,86.7 L447.6,84.2 L449.0,82.1 L446.5,81.7 L447.5,78.6 L446.0,78.0" fill="none" stroke="#000" stroke-width="0.5" stroke-opacity="0.85" stroke-linejoin="round"/><circle cx="446.0" cy="78.0" r="1.3" fill="#000"/>
<path d="M449.8,97.9 L448.9,97.2 L447.0,94.6 L445.4,94.7 L445.8,91.3 L444.4,89.5 L443.6,88.2 L441.4,85.2 L443.5,84.8 L441.7,85.1 L443.0,80.0" fill="none" stroke="#000" stroke-width="0.5" stroke-opacity="0.85" stroke-linejoin="round"/><circle cx="443.0" cy="80.0" r="1.3" fill="#000"/>
<path d="M448.5,97.4 L449.6,93.5 L452.1,90.3 L449.9,86.7 L451.0,81.2 L453.5,77.5 L452.3,73.5 L452.1,70.7 L451.9,66.2 L454.8,61.8 L455.0,58.0" fill="none" stroke="#000" stroke-width="0.5" stroke-opacity="0.85" stroke-linejoin="round"/><circle cx="455.0" cy="58.0" r="1.3" fill="#000"/>
<path d="M449.4,97.3 L449.0,93.9 L453.0,88.7 L452.9,86.1 L451.0,80.1 L451.4,78.8 L453.1,75.4 L452.8,76.1 L455.0,71.9 L458.6,71.1 L459.0,66.0" fill="none" stroke="#000" stroke-width="0.5" stroke-opacity="0.85" stroke-linejoin="round"/><circle cx="459.0" cy="66.0" r="1.3" fill="#000"/>
<path d="M452.5,98.3 L450.5,96.1 L448.9,95.1 L446.9,92.5 L446.5,91.7 L444.3,88.4 L445.0,85.7 L445.2,83.5 L444.3,79.8 L443.1,77.1 L441.0,77.0" fill="none" stroke="#000" stroke-width="0.5" stroke-opacity="0.85" stroke-linejoin="round"/><circle cx="441.0" cy="77.0" r="1.3" fill="#000"/>
<path d="M450.4,97.8 L450.7,95.0 L449.4,90.3 L448.1,84.6 L449.6,80.2 L448.7,76.2 L449.8,73.8 L450.0,69.8 L450.5,66.9 L451.1,60.8 L451.0,56.0" fill="none" stroke="#000" stroke-width="0.5" stroke-opacity="0.85" stroke-linejoin="round"/><circle cx="451.0" cy="56.0" r="1.3" fill="#000"/>
<path d="M447.6,98.0 L445.8,98.4 L444.6,97.4 L443.8,96.4 L444.5,93.7 L442.9,93.3 L441.8,92.0 L442.5,89.2 L443.2,87.1 L441.7,84.8 L444.0,84.0" fill="none" stroke="#000" stroke-width="0.5" stroke-opacity="0.85" stroke-linejoin="round"/><circle cx="444.0" cy="84.0" r="1.3" fill="#000"/>
<path d="M451.8,97.1 L453.8,92.9 L453.1,92.1 L454.6,89.0 L455.5,86.0 L453.7,84.7 L453.8,83.2 L454.9,79.4 L455.1,75.8 L455.6,74.2 L457.0,75.0" fill="none" stroke="#000" stroke-width="0.5" stroke-opacity="0.85" stroke-linejoin="round"/><circle cx="457.0" cy="75.0" r="1.3" fill="#000"/>
<path d="M448.5,97.5 L446.7,94.2 L446.0,91.5 L447.4,90.3 L446.5,88.1 L446.5,86.2 L446.2,83.5 L445.1,79.4 L446.0,78.2 L446.5,75.8 L446.5,72.2" fill="none" stroke="#000" stroke-width="0.5" stroke-opacity="0.75" stroke-linejoin="round"/>
<path d="M451.2,97.5 L451.3,96.1 L450.5,92.4 L450.9,89.7 L451.8,86.7 L451.5,85.8 L452.4,85.0 L451.6,85.5 L449.9,82.3 L449.3,81.8 L449.4,82.1" fill="none" stroke="#000" stroke-width="0.5" stroke-opacity="0.75" stroke-linejoin="round"/>
<path d="M450.2,97.5 L449.5,96.0 L447.6,93.5 L446.2,89.1 L445.4,85.6 L446.2,84.2 L445.0,82.2 L446.0,79.4 L444.6,76.8 L444.1,73.4 L443.3,70.5" fill="none" stroke="#000" stroke-width="0.5" stroke-opacity="0.75" stroke-linejoin="round"/>
<path d="M449.1,97.5 L446.6,97.2 L447.0,92.2 L447.5,89.6 L447.4,87.9 L446.4,83.9 L445.6,83.0 L444.4,79.1 L444.4,79.8 L443.1,79.2 L443.4,77.8" fill="none" stroke="#000" stroke-width="0.5" stroke-opacity="0.75" stroke-linejoin="round"/>
<path d="M450.9,97.5 L451.9,95.9 L453.0,95.0 L453.2,94.5 L455.0,93.1 L455.1,90.7 L456.7,87.5 L457.2,84.7 L455.9,83.9 L456.5,82.2 L458.3,78.4" fill="none" stroke="#000" stroke-width="0.5" stroke-opacity="0.75" stroke-linejoin="round"/>
<path d="M451.4,97.5 L450.4,92.7 L449.8,88.9 L449.4,83.5 L450.7,77.8 L451.9,74.4 L449.4,71.4 L449.3,65.9 L451.4,63.2 L447.9,60.2 L446.4,53.5" fill="none" stroke="#000" stroke-width="0.5" stroke-opacity="0.75" stroke-linejoin="round"/>
<path d="M449.8,97.5 L452.4,95.9 L451.4,94.3 L452.6,91.7 L453.1,88.9 L452.9,84.2 L453.3,83.6 L455.8,80.9 L455.3,78.3 L457.0,76.4 L456.8,74.6" fill="none" stroke="#000" stroke-width="0.5" stroke-opacity="0.75" stroke-linejoin="round"/>
<path d="M450.8,97.5 L450.7,92.7 L451.1,90.5 L448.3,87.7 L448.0,84.8 L448.9,80.4 L448.1,76.0 L449.1,70.5 L449.5,65.8 L448.9,60.2 L446.9,56.9" fill="none" stroke="#000" stroke-width="0.5" stroke-opacity="0.75" stroke-linejoin="round"/>
<path d="M449.2,97.5 L448.8,93.5 L450.0,89.1 L451.0,86.4 L450.5,81.8 L450.1,78.5 L449.7,74.3 L450.1,69.7 L452.7,64.8 L454.8,61.1 L456.8,56.1" fill="none" stroke="#000" stroke-width="0.5" stroke-opacity="0.75" stroke-linejoin="round"/>
<path d="M449.7,97.5 L449.3,96.7 L451.4,94.4 L449.2,90.4 L450.0,87.2 L448.9,85.8 L448.1,83.6 L447.4,78.5 L446.1,76.9 L443.4,72.4 L443.1,69.6" fill="none" stroke="#000" stroke-width="0.5" stroke-opacity="0.75" stroke-linejoin="round"/>
<path d="M451.0,97.5 L451.2,96.8 L452.5,94.1 L452.0,93.9 L450.9,94.3 L451.6,93.2 L450.5,90.8 L452.1,87.3 L455.5,83.9 L454.6,82.4 L455.9,81.9" fill="none" stroke="#000" stroke-width="0.5" stroke-opacity="0.75" stroke-linejoin="round"/>
<path d="M450.8,97.5 L451.4,94.3 L451.8,89.7 L453.1,85.6 L453.7,83.2 L456.3,78.8 L457.6,72.3 L456.4,68.4 L455.4,62.5 L454.1,58.6 L452.0,54.9" fill="none" stroke="#000" stroke-width="0.5" stroke-opacity="0.75" stroke-linejoin="round"/>
<path d="M448.7,97.5 L448.6,97.8 L447.8,96.1 L448.4,95.5 L448.1,95.7 L451.5,94.0 L454.4,90.1 L456.7,88.4 L457.3,86.8 L456.8,84.0 L456.7,84.5" fill="none" stroke="#000" stroke-width="0.5" stroke-opacity="0.75" stroke-linejoin="round"/>
<path d="M450.6,97.5 L451.4,95.5 L452.9,92.1 L454.9,90.8 L455.5,87.8 L456.0,83.5 L456.0,79.6 L455.4,76.0 L456.1,73.3 L458.5,72.7 L459.1,69.3" fill="none" stroke="#000" stroke-width="0.5" stroke-opacity="0.75" stroke-linejoin="round"/>
<path d="M448.4,97.5 L448.7,93.4 L448.3,89.7 L449.9,87.6 L452.6,84.8 L453.4,80.7 L454.3,77.1 L453.1,74.2 L452.4,69.7 L453.8,65.1 L457.4,61.1" fill="none" stroke="#000" stroke-width="0.5" stroke-opacity="0.75" stroke-linejoin="round"/>
<path d="M449.6,97.5 L451.3,98.6 L449.1,95.7 L450.8,95.5 L451.8,93.9 L451.7,92.1 L450.9,89.6 L450.3,89.7 L447.7,89.0 L445.8,85.1 L442.9,81.9" fill="none" stroke="#000" stroke-width="0.5" stroke-opacity="0.75" stroke-linejoin="round"/>
<path d="M451.0,97.5 L450.6,95.7 L450.4,89.6 L452.2,86.8 L452.8,79.6 L453.6,75.5 L454.0,71.3 L452.5,66.8 L455.7,65.1 L456.1,60.4 L457.5,58.0" fill="none" stroke="#000" stroke-width="0.5" stroke-opacity="0.75" stroke-linejoin="round"/>
<path d="M448.5,97.5 L449.5,95.5 L450.3,92.7 L449.6,90.2 L449.5,86.9 L451.7,87.1 L450.0,84.6 L451.7,79.4 L453.4,77.5 L454.8,76.8 L456.9,72.9" fill="none" stroke="#000" stroke-width="0.5" stroke-opacity="0.75" stroke-linejoin="round"/>
<path d="M451.3,97.5 L449.7,92.2 L448.0,88.2 L447.8,83.0 L448.2,77.5 L448.3,74.0 L448.0,72.8 L446.7,68.5 L446.4,65.5 L443.6,61.8 L441.7,58.6" fill="none" stroke="#000" stroke-width="0.5" stroke-opacity="0.75" stroke-linejoin="round"/>
<path d="M449.3,97.5 L449.3,95.6 L448.2,93.4 L448.0,92.9 L446.3,91.9 L443.7,89.7 L440.6,86.9 L443.3,83.6 L443.5,81.9 L442.3,76.9 L441.1,72.8" fill="none" stroke="#000" stroke-width="0.5" stroke-opacity="0.75" stroke-linejoin="round"/>
<path d="M449.1,97.5 L450.5,91.4 L453.1,87.3 L453.0,86.2 L453.5,81.2 L453.2,76.9 L452.5,73.1 L454.3,70.2 L453.1,70.6 L452.4,67.4 L453.1,65.1" fill="none" stroke="#000" stroke-width="0.5" stroke-opacity="0.75" stroke-linejoin="round"/>
<path d="M448.0,97.5 L449.4,91.8 L448.1,87.7 L448.1,83.9 L449.6,79.7 L449.1,77.2 L446.3,71.5 L445.0,69.5 L444.8,64.6 L446.0,61.6 L447.6,56.9" fill="none" stroke="#000" stroke-width="0.5" stroke-opacity="0.75" stroke-linejoin="round"/>
<path d="M453.3,39.2 L461.7,46 L457.9,52.7" fill="none" stroke="#333" stroke-width="0.6"/>
<circle cx="453.3" cy="39.2" r="1.3" fill="#000"/>
<path d="M468,57.6 L461,70" fill="none" stroke="#333" stroke-width="0.5"/>
<path d="M472.8,74 Q470,82 462,86 L452,92" fill="none" stroke="#444" stroke-width="0.5"/>
<path d="M466.7,94.4 L466,98 L458,98.5" fill="none" stroke="#666" stroke-width="0.5"/>
<path d="M449,99 L445,105 L444,112 L442,121.2" fill="none" stroke="#444" stroke-width="0.5"/>
<path d="M450.0,98.0 L449.5,98.5 L449.1,99.9 L445.8,101.8 L444.9,104.5 L444.9,106.4 L444.0,110.0" fill="none" stroke="#555" stroke-width="0.5" stroke-opacity="0.8" stroke-linejoin="round"/>
<path d="M450.0,98.0 L448.7,99.9 L447.7,102.1 L447.3,101.4 L446.5,104.0 L446.6,104.3 L447.0,106.0" fill="none" stroke="#555" stroke-width="0.5" stroke-opacity="0.8" stroke-linejoin="round"/>
<path d="M450.0,98.0 L452.2,98.8 L454.2,101.0 L453.2,102.0 L452.9,101.5 L454.6,104.2 L456.0,104.0" fill="none" stroke="#555" stroke-width="0.5" stroke-opacity="0.8" stroke-linejoin="round"/>
<path d="M450.0,98.0 L447.7,99.5 L446.8,100.3 L445.7,101.0 L444.2,100.6 L441.8,101.2 L441.0,103.0" fill="none" stroke="#555" stroke-width="0.5" stroke-opacity="0.8" stroke-linejoin="round"/>
<path d="M450.0,98.0 L452.7,100.7 L449.2,101.7 L450.7,104.7 L450.4,106.1 L450.8,108.9 L452.0,113.0" fill="none" stroke="#555" stroke-width="0.5" stroke-opacity="0.8" stroke-linejoin="round"/>
<path d="M450.0,98.0 L453.7,99.1 L454.1,99.8 L454.6,98.9 L455.5,97.4 L456.3,99.1 L458.0,101.0" fill="none" stroke="#555" stroke-width="0.5" stroke-opacity="0.8" stroke-linejoin="round"/>
<path d="M442,97 L441,80 L443,62 L449,52 L456,55 L459,70 L457,90 L454,97 Z" fill="#000" fill-opacity="0.3"/>
<polygon points="204.4,32.3 220.5,32.3 220.2,171" fill="#000"/>
<text x="9.6" y="23.6" font-size="26" font-weight="bold" font-style="normal" text-anchor="start" fill="#000" >A</text>
<text x="155" y="21" font-size="22" font-weight="normal" font-style="normal" text-anchor="start" fill="#000" >wildtype</text>
<text x="393" y="25" font-size="22.5" font-weight="normal" font-style="italic" text-anchor="start" fill="#000" >CD81<tspan font-size="22" dy="-7">-/-</tspan></text>
<text transform="translate(15,91.5) rotate(-90)" font-size="13" text-anchor="middle" class="med">unstimulated</text>
<text transform="translate(202.7,104.5) rotate(-90)" font-size="13.5" class="med" text-anchor="middle">CCL19</text>
<text x="33" y="41.5" font-size="8.5" font-weight="normal" font-style="normal" text-anchor="end" fill="#000" >400</text>
<text x="31.5" y="164.5" font-size="8.5" font-weight="normal" font-style="normal" text-anchor="end" fill="#000" >-400</text>
<text x="240.5" y="41.5" font-size="8.5" font-weight="normal" font-style="normal" text-anchor="end" fill="#000" >400</text>
<text x="240" y="164.5" font-size="8.5" font-weight="normal" font-style="normal" text-anchor="end" fill="#000" >-400</text>
<text x="43.5" y="176.8" font-size="8.5" font-weight="normal" font-style="normal" text-anchor="middle" fill="#000" >-400</text>
<text x="101" y="175.5" font-size="8.5" font-weight="normal" font-style="normal" text-anchor="middle" fill="#000" >[µm]</text>
<text x="159" y="176.8" font-size="8.5" font-weight="normal" font-style="normal" text-anchor="middle" fill="#000" >400</text>
<text x="251.3" y="176.8" font-size="8.5" font-weight="normal" font-style="normal" text-anchor="middle" fill="#000" >-400</text>
<text x="309" y="175.5" font-size="8.5" font-weight="normal" font-style="normal" text-anchor="middle" fill="#000" >[µm]</text>
<text x="367.2" y="176.8" font-size="8.5" font-weight="normal" font-style="normal" text-anchor="middle" fill="#000" >400</text>
<text x="391.4" y="176.8" font-size="8.5" font-weight="normal" font-style="normal" text-anchor="middle" fill="#000" >-400</text>
<text x="449.6" y="175.5" font-size="8.5" font-weight="normal" font-style="normal" text-anchor="middle" fill="#000" >[µm]</text>
<text x="507.3" y="176.8" font-size="8.5" font-weight="normal" font-style="normal" text-anchor="middle" fill="#000" >400</text>
<text transform="translate(32.5,99.8) rotate(-90)" font-size="8.5" text-anchor="middle">[µm]</text>
<text transform="translate(239,99.8) rotate(-90)" font-size="8.5" text-anchor="middle">[µm]</text>
<text x="11.3" y="225.8" font-size="25.5" font-weight="bold" font-style="normal" text-anchor="start" fill="#000" >B</text>
<text x="141" y="225.6" font-size="18" font-weight="normal" font-style="normal" text-anchor="middle" fill="#000" >Velocity</text>
<line x1="47" y1="245.5" x2="47" y2="378" stroke="#000" stroke-width="2"/>
<line x1="46" y1="377" x2="243.5" y2="377" stroke="#000" stroke-width="2"/>
<line x1="43" y1="246" x2="47" y2="246" stroke="#000" stroke-width="1.6"/>
<text x="42" y="249.3" font-size="9.4" font-weight="bold" font-style="normal" text-anchor="end" fill="#000" >4</text>
<line x1="43" y1="278.75" x2="47" y2="278.75" stroke="#000" stroke-width="1.6"/>
<text x="42" y="282.05" font-size="9.4" font-weight="bold" font-style="normal" text-anchor="end" fill="#000" >3</text>
<line x1="43" y1="311.5" x2="47" y2="311.5" stroke="#000" stroke-width="1.6"/>
<text x="42" y="314.8" font-size="9.4" font-weight="bold" font-style="normal" text-anchor="end" fill="#000" >2</text>
<line x1="43" y1="344.25" x2="47" y2="344.25" stroke="#000" stroke-width="1.6"/>
<text x="42" y="347.55" font-size="9.4" font-weight="bold" font-style="normal" text-anchor="end" fill="#000" >1</text>
<line x1="43" y1="377" x2="47" y2="377" stroke="#000" stroke-width="1.6"/>
<text x="42" y="380.3" font-size="9.4" font-weight="bold" font-style="normal" text-anchor="end" fill="#000" >0</text>
<line x1="80" y1="377" x2="80" y2="381.5" stroke="#000" stroke-width="1.2"/>
<line x1="145.2" y1="377" x2="145.2" y2="381.5" stroke="#000" stroke-width="1.2"/>
<line x1="210.6" y1="377" x2="210.6" y2="381.5" stroke="#000" stroke-width="1.2"/>
<text transform="translate(30.5,311) rotate(-90)" font-size="10.4" font-weight="bold" text-anchor="middle">[µm/min]</text>
<path d="M78.5,256 V249.5 H140 V256 M143.5,256 V249.5 H209.5 V256" fill="none" stroke="#aaa" stroke-width="1"/>
<text x="113" y="249" font-size="9.5" font-weight="bold" font-style="normal" text-anchor="middle" fill="#000" >***</text>
<text x="180.3" y="247.8" font-size="9.5" font-weight="normal" font-style="normal" text-anchor="middle" fill="#000" >ns</text>
<path d="M76.4,333.3L78.0,330.5L79.6,333.3ZM80.4,333.3L82.0,330.5L83.6,333.3ZM72.2,336.5L73.8,333.7L75.4,336.5ZM84.0,336.5L85.6,333.7L87.2,336.5ZM76.4,338.7L78.0,335.9L79.6,338.7ZM80.4,338.7L82.0,335.9L83.6,338.7ZM72.2,341.6L73.8,338.8L75.4,341.6ZM84.0,341.6L85.6,338.8L87.2,341.6ZM76.4,343.5L78.0,340.7L79.6,343.5ZM80.4,343.5L82.0,340.7L83.6,343.5ZM66.4,345.4L68.0,342.6L69.6,345.4ZM89.7,347.1L91.3,344.3L92.9,347.1ZM70.4,348.7L72.0,345.9L73.6,348.7ZM74.4,348.7L76.0,345.9L77.6,348.7ZM82.4,348.7L84.0,345.9L85.6,348.7ZM86.4,348.7L88.0,345.9L89.6,348.7ZM64.4,350.4L66.0,347.6L67.6,350.4ZM78.4,350.4L80.0,347.6L81.6,350.4ZM92.4,350.4L94.0,347.6L95.6,350.4ZM70.4,352.9L72.0,350.1L73.6,352.9ZM74.4,352.9L76.0,350.1L77.6,352.9ZM78.4,352.9L80.0,350.1L81.6,352.9ZM82.4,352.9L84.0,350.1L85.6,352.9ZM86.4,352.9L88.0,350.1L89.6,352.9ZM70.4,355.9L72.0,353.1L73.6,355.9ZM74.4,355.9L76.0,353.1L77.6,355.9ZM78.4,355.9L80.0,353.1L81.6,355.9ZM82.4,355.9L84.0,353.1L85.6,355.9ZM86.4,355.9L88.0,353.1L89.6,355.9ZM68.4,358.4L70.0,355.6L71.6,358.4ZM88.4,358.4L90.0,355.6L91.6,358.4ZM58.4,365.2L60.0,362.4L61.6,365.2ZM62.4,365.2L64.0,362.4L65.6,365.2ZM66.4,365.2L68.0,362.4L69.6,365.2ZM70.4,365.2L72.0,362.4L73.6,365.2ZM74.4,365.2L76.0,362.4L77.6,365.2ZM78.4,365.2L80.0,362.4L81.6,365.2ZM82.4,365.2L84.0,362.4L85.6,365.2ZM86.4,365.2L88.0,362.4L89.6,365.2ZM90.4,365.2L92.0,362.4L93.6,365.2ZM94.4,365.2L96.0,362.4L97.6,365.2ZM98.4,365.2L100.0,362.4L101.6,365.2ZM74.4,368.4L76.0,365.6L77.6,368.4ZM78.4,368.4L80.0,365.6L81.6,368.4ZM82.4,368.4L84.0,365.6L85.6,368.4ZM82.4,370.4L84.0,367.6L85.6,370.4ZM76.4,374.4L78.0,371.6L79.6,374.4ZM80.4,374.4L82.0,371.6L83.6,374.4ZM60.4,376.6L62.0,373.8L63.6,376.6ZM64.4,376.6L66.0,373.8L67.6,376.6ZM68.4,376.6L70.0,373.8L71.6,376.6ZM72.4,376.6L74.0,373.8L75.6,376.6ZM76.4,376.6L78.0,373.8L79.6,376.6ZM80.4,376.6L82.0,373.8L83.6,376.6ZM84.4,376.6L86.0,373.8L87.6,376.6ZM88.4,376.6L90.0,373.8L91.6,376.6ZM92.4,376.6L94.0,373.8L95.6,376.6ZM96.4,376.6L98.0,373.8L99.6,376.6ZM139.6,278.0L141.2,275.1L142.8,278.0ZM147.6,278.0L149.2,275.1L150.8,278.0ZM143.6,281.6L145.2,278.8L146.8,281.6ZM141.6,285.2L143.2,282.3L144.8,285.2ZM145.6,285.2L147.2,282.3L148.8,285.2ZM139.6,290.0L141.2,287.1L142.8,290.0ZM143.6,290.4L145.2,287.6L146.8,290.4ZM147.6,290.0L149.2,287.1L150.8,290.0ZM143.6,296.9L145.2,294.1L146.8,296.9ZM139.6,302.4L141.2,299.5L142.8,302.4ZM147.6,302.4L149.2,299.5L150.8,302.4ZM133.6,306.0L135.2,303.2L136.8,306.0ZM137.6,306.5L139.2,303.6L140.8,306.5ZM143.6,307.2L145.2,304.4L146.8,307.2ZM149.6,306.5L151.2,303.6L152.8,306.5ZM153.6,306.0L155.2,303.2L156.8,306.0ZM141.6,310.5L143.2,307.6L144.8,310.5ZM145.6,310.5L147.2,307.6L148.8,310.5ZM135.6,315.5L137.2,312.6L138.8,315.5ZM139.6,316.0L141.2,313.1L142.8,316.0ZM143.6,316.4L145.2,313.6L146.8,316.4ZM147.6,316.0L149.2,313.1L150.8,316.0ZM151.6,315.5L153.2,312.6L154.8,315.5ZM123.6,322.5L125.2,319.7L126.8,322.5ZM127.6,323.0L129.2,320.1L130.8,323.0ZM131.6,323.5L133.2,320.6L134.8,323.5ZM135.6,324.0L137.2,321.1L138.8,324.0ZM139.6,324.5L141.2,321.6L142.8,324.5ZM143.6,324.9L145.2,322.1L146.8,324.9ZM147.6,324.5L149.2,321.6L150.8,324.5ZM151.6,324.0L153.2,321.1L154.8,324.0ZM155.6,323.5L157.2,320.6L158.8,323.5ZM159.6,323.0L161.2,320.1L162.8,323.0ZM163.6,322.5L165.2,319.7L166.8,322.5ZM129.6,330.8L131.2,327.9L132.8,330.8ZM133.6,331.2L135.2,328.4L136.8,331.2ZM137.6,331.7L139.2,328.8L140.8,331.7ZM141.6,332.2L143.2,329.3L144.8,332.2ZM145.6,332.2L147.2,329.3L148.8,332.2ZM149.6,331.7L151.2,328.8L152.8,331.7ZM153.6,331.2L155.2,328.4L156.8,331.2ZM157.6,330.8L159.2,327.9L160.8,330.8ZM127.6,335.0L129.2,332.1L130.8,335.0ZM131.6,335.5L133.2,332.6L134.8,335.5ZM135.6,336.0L137.2,333.1L138.8,336.0ZM139.6,336.5L141.2,333.6L142.8,336.5ZM147.6,336.5L149.2,333.6L150.8,336.5ZM151.6,336.0L153.2,333.1L154.8,336.0ZM155.6,335.5L157.2,332.6L158.8,335.5ZM159.6,335.0L161.2,332.1L162.8,335.0ZM143.6,339.9L145.2,337.1L146.8,339.9ZM141.6,342.7L143.2,339.8L144.8,342.7ZM145.6,345.2L147.2,342.3L148.8,345.2ZM141.6,350.2L143.2,347.3L144.8,350.2ZM145.6,350.2L147.2,347.3L148.8,350.2ZM145.6,355.7L147.2,352.8L148.8,355.7ZM143.6,360.4L145.2,357.6L146.8,360.4ZM207.0,293.3L208.6,290.5L210.2,293.3ZM211.0,293.3L212.6,290.5L214.2,293.3ZM209.0,302.8L210.6,300.0L212.2,302.8ZM203.0,305.6L204.6,302.8L206.2,305.6ZM215.0,305.6L216.6,302.8L218.2,305.6ZM207.0,308.8L208.6,306.0L210.2,308.8ZM211.0,308.8L212.6,306.0L214.2,308.8ZM199.0,312.9L200.6,310.1L202.2,312.9ZM219.0,312.9L220.6,310.1L222.2,312.9ZM203.0,315.6L204.6,312.8L206.2,315.6ZM207.0,315.8L208.6,313.0L210.2,315.8ZM211.0,315.8L212.6,313.0L214.2,315.8ZM215.0,315.6L216.6,312.8L218.2,315.6ZM195.0,319.7L196.6,316.9L198.2,319.7ZM199.0,319.9L200.6,317.1L202.2,319.9ZM203.0,320.1L204.6,317.3L206.2,320.1ZM207.0,320.3L208.6,317.5L210.2,320.3ZM215.0,320.1L216.6,317.3L218.2,320.1ZM219.0,319.9L220.6,317.1L222.2,319.9ZM223.0,319.7L224.6,316.9L226.2,319.7ZM189.0,323.7L190.6,320.9L192.2,323.7ZM193.0,323.9L194.6,321.1L196.2,323.9ZM197.0,324.1L198.6,321.3L200.2,324.1ZM201.0,324.3L202.6,321.5L204.2,324.3ZM205.0,324.5L206.6,321.7L208.2,324.5ZM209.0,324.7L210.6,321.9L212.2,324.7ZM213.0,324.5L214.6,321.7L216.2,324.5ZM217.0,324.3L218.6,321.5L220.2,324.3ZM221.0,324.1L222.6,321.3L224.2,324.1ZM225.0,323.9L226.6,321.1L228.2,323.9ZM229.0,323.7L230.6,320.9L232.2,323.7ZM191.0,328.0L192.6,325.2L194.2,328.0ZM195.0,328.2L196.6,325.4L198.2,328.2ZM199.0,328.4L200.6,325.6L202.2,328.4ZM203.0,328.6L204.6,325.8L206.2,328.6ZM207.0,328.8L208.6,326.0L210.2,328.8ZM211.0,328.8L212.6,326.0L214.2,328.8ZM215.0,328.6L216.6,325.8L218.2,328.6ZM219.0,328.4L220.6,325.6L222.2,328.4ZM223.0,328.2L224.6,325.4L226.2,328.2ZM227.0,328.0L228.6,325.2L230.2,328.0ZM197.0,331.8L198.6,329.0L200.2,331.8ZM201.0,332.0L202.6,329.2L204.2,332.0ZM205.0,332.2L206.6,329.4L208.2,332.2ZM211.0,332.3L212.6,329.5L214.2,332.3ZM215.0,332.1L216.6,329.3L218.2,332.1ZM219.0,331.9L220.6,329.1L222.2,331.9ZM223.0,331.7L224.6,328.9L226.2,331.7ZM193.0,336.1L194.6,333.3L196.2,336.1ZM219.0,336.4L220.6,333.6L222.2,336.4ZM225.0,336.1L226.6,333.3L228.2,336.1ZM199.0,339.4L200.6,336.6L202.2,339.4ZM203.0,339.6L204.6,336.8L206.2,339.6ZM207.0,339.8L208.6,337.0L210.2,339.8ZM211.0,339.8L212.6,337.0L214.2,339.8ZM215.0,339.6L216.6,336.8L218.2,339.6ZM219.0,339.4L220.6,336.6L222.2,339.4ZM209.0,344.2L210.6,341.4L212.2,344.2ZM213.0,344.0L214.6,341.2L216.2,344.0Z" fill="#000"/>
<line x1="79.6" y1="343.7" x2="79.6" y2="370.8" stroke="#333" stroke-width="1.2"/>
<line x1="67.85" y1="343.7" x2="91.35" y2="343.7" stroke="#333" stroke-width="1.3"/>
<line x1="67.85" y1="370.8" x2="91.35" y2="370.8" stroke="#333" stroke-width="1.3"/>
<line x1="57.3" y1="357.2" x2="101.89999999999999" y2="357.2" stroke="#000" stroke-width="2"/>
<line x1="145.3" y1="299.4" x2="145.3" y2="340.2" stroke="#333" stroke-width="1.2"/>
<line x1="134.3" y1="299.4" x2="156.3" y2="299.4" stroke="#333" stroke-width="1.3"/>
<line x1="134.3" y1="340.2" x2="156.3" y2="340.2" stroke="#333" stroke-width="1.3"/>
<line x1="122.80000000000001" y1="319.8" x2="167.8" y2="319.8" stroke="#000" stroke-width="2"/>
<line x1="210.6" y1="312.2" x2="210.6" y2="335.8" stroke="#333" stroke-width="1.2"/>
<line x1="200.1" y1="312.2" x2="221.1" y2="312.2" stroke="#333" stroke-width="1.3"/>
<line x1="200.1" y1="335.8" x2="221.1" y2="335.8" stroke="#333" stroke-width="1.3"/>
<line x1="188.6" y1="323.9" x2="232.6" y2="323.9" stroke="#000" stroke-width="2"/>
<text x="81.2" y="399" font-size="13.5" font-weight="normal" font-style="normal" text-anchor="middle" fill="#000" >us</text>
<text x="147.1" y="399.5" font-size="13.6" font-weight="normal" font-style="normal" text-anchor="middle" fill="#000" >+CCL19</text>
<text x="216" y="399.8" font-size="13.6" font-weight="normal" font-style="normal" text-anchor="middle" fill="#000" >+CCL19</text>
<line x1="46" y1="403.6" x2="176" y2="403.6" stroke="#000" stroke-width="1.5"/>
<line x1="181.8" y1="403.6" x2="248.5" y2="403.6" stroke="#000" stroke-width="1.5"/>
<text x="115.2" y="421" font-size="15" font-weight="normal" font-style="normal" text-anchor="middle" fill="#000" >wildtype</text>
<text x="190.5" y="422.3" font-size="14" font-weight="normal" font-style="italic" text-anchor="start" fill="#000" >CD81<tspan font-size="15.5" dx="0.8" dy="-5">-/-</tspan></text>
<text x="249.2" y="226.6" font-size="25.5" font-weight="bold" font-style="normal" text-anchor="start" fill="#000" >C</text>
<text x="289" y="226" font-size="18.5" font-weight="normal" font-style="normal" text-anchor="start" fill="#000" >y Forward Migration Index</text>
<line x1="293" y1="251.5" x2="293" y2="377" stroke="#000" stroke-width="2"/>
<line x1="292" y1="376" x2="479.7" y2="376" stroke="#000" stroke-width="2"/>
<line x1="289" y1="252" x2="293" y2="252" stroke="#000" stroke-width="1.6"/>
<text x="288" y="255.3" font-size="9.4" font-weight="bold" font-style="normal" text-anchor="end" fill="#000" >1.5</text>
<line x1="289" y1="276.8" x2="293" y2="276.8" stroke="#000" stroke-width="1.6"/>
<text x="288" y="280.1" font-size="9.4" font-weight="bold" font-style="normal" text-anchor="end" fill="#000" >1.0</text>
<line x1="289" y1="301.6" x2="293" y2="301.6" stroke="#000" stroke-width="1.6"/>
<text x="288" y="304.90000000000003" font-size="9.4" font-weight="bold" font-style="normal" text-anchor="end" fill="#000" >0.5</text>
<line x1="289" y1="326.4" x2="293" y2="326.4" stroke="#000" stroke-width="1.6"/>
<text x="288" y="329.7" font-size="9.4" font-weight="bold" font-style="normal" text-anchor="end" fill="#000" >0.0</text>
<line x1="289" y1="351.2" x2="293" y2="351.2" stroke="#000" stroke-width="1.6"/>
<text x="288" y="354.5" font-size="9.4" font-weight="bold" font-style="normal" text-anchor="end" fill="#000" >-0.5</text>
<line x1="289" y1="376" x2="293" y2="376" stroke="#000" stroke-width="1.6"/>
<text x="288" y="379.3" font-size="9.4" font-weight="bold" font-style="normal" text-anchor="end" fill="#000" >-1.0</text>
<line x1="324.6" y1="376" x2="324.6" y2="380.5" stroke="#000" stroke-width="1.2"/>
<line x1="386.5" y1="376" x2="386.5" y2="380.5" stroke="#000" stroke-width="1.2"/>
<line x1="448.5" y1="376" x2="448.5" y2="380.5" stroke="#000" stroke-width="1.2"/>
<path d="M323.8,245.5 V239.8 H382.6 V245.5 M385.5,245.5 V239.8 H447.6 V245.5" fill="none" stroke="#555" stroke-width="1"/>
<text x="356" y="239" font-size="9.5" font-weight="bold" font-style="normal" text-anchor="middle" fill="#000" >***</text>
<text x="419.7" y="237.5" font-size="9.5" font-weight="normal" font-style="normal" text-anchor="middle" fill="#000" >ns</text>
<path d="M320.7,281.1L322.3,278.3L323.9,281.1ZM324.6,283.4L326.2,280.6L327.8,283.4ZM323.0,294.9L324.6,292.1L326.2,294.9ZM323.0,306.4L324.6,303.6L326.2,306.4ZM324.6,309.4L326.2,306.6L327.8,309.4ZM320.7,311.9L322.3,309.1L323.9,311.9ZM319.0,315.4L320.6,312.6L322.2,315.4ZM323.0,315.4L324.6,312.6L326.2,315.4ZM326.6,315.4L328.2,312.6L329.8,315.4ZM315.4,318.9L317.0,316.1L318.6,318.9ZM323.0,318.9L324.6,316.1L326.2,318.9ZM329.9,318.9L331.5,316.1L333.1,318.9ZM315.4,321.4L317.0,318.6L318.6,321.4ZM319.0,321.4L320.6,318.6L322.2,321.4ZM326.6,321.4L328.2,318.6L329.8,321.4ZM323.0,323.4L324.6,320.6L326.2,323.4ZM326.6,323.4L328.2,320.6L329.8,323.4ZM306.0,325.0L307.6,322.2L309.2,325.0ZM310.0,325.0L311.6,322.2L313.2,325.0ZM313.7,325.0L315.3,322.2L316.9,325.0ZM317.4,325.0L319.0,322.2L320.6,325.0ZM321.1,325.0L322.7,322.2L324.3,325.0ZM324.9,325.0L326.5,322.2L328.1,325.0ZM328.6,325.0L330.2,322.2L331.8,325.0ZM332.3,325.0L333.9,322.2L335.5,325.0ZM336.0,325.0L337.6,322.2L339.2,325.0ZM340.0,325.0L341.6,322.2L343.2,325.0ZM319.0,328.9L320.6,326.1L322.2,328.9ZM326.6,328.9L328.2,326.1L329.8,328.9ZM330.4,328.9L332.0,326.1L333.6,328.9ZM307.8,332.0L309.4,329.2L311.0,332.0ZM311.4,332.0L313.0,329.2L314.6,332.0ZM315.4,332.0L317.0,329.2L318.6,332.0ZM319.0,332.0L320.6,329.2L322.2,332.0ZM323.0,332.0L324.6,329.2L326.2,332.0ZM326.6,332.0L328.2,329.2L329.8,332.0ZM330.4,332.0L332.0,329.2L333.6,332.0ZM334.2,332.0L335.8,329.2L337.4,332.0ZM337.8,332.0L339.4,329.2L341.0,332.0ZM323.0,335.4L324.6,332.6L326.2,335.4ZM315.4,337.9L317.0,335.1L318.6,337.9ZM330.4,337.9L332.0,335.1L333.6,337.9ZM311.4,341.9L313.0,339.1L314.6,341.9ZM315.4,341.9L317.0,339.1L318.6,341.9ZM319.0,341.9L320.6,339.1L322.2,341.9ZM323.0,341.9L324.6,339.1L326.2,341.9ZM326.6,341.9L328.2,339.1L329.8,341.9ZM330.4,341.9L332.0,339.1L333.6,341.9ZM334.2,341.9L335.8,339.1L337.4,341.9ZM323.0,345.7L324.6,342.9L326.2,345.7ZM324.6,345.7L326.2,342.9L327.8,345.7ZM321.1,349.0L322.7,346.2L324.3,349.0ZM374.9,281.4L376.5,278.6L378.1,281.4ZM378.9,281.4L380.5,278.6L382.1,281.4ZM382.9,281.4L384.5,278.6L386.1,281.4ZM386.9,281.4L388.5,278.6L390.1,281.4ZM390.9,281.4L392.5,278.6L394.1,281.4ZM394.4,281.4L396.0,278.6L397.6,281.4ZM364.9,284.4L366.5,281.6L368.1,284.4ZM368.9,284.4L370.5,281.6L372.1,284.4ZM372.9,284.4L374.5,281.6L376.1,284.4ZM376.9,284.4L378.5,281.6L380.1,284.4ZM380.9,284.4L382.5,281.6L384.1,284.4ZM384.9,284.4L386.5,281.6L388.1,284.4ZM388.9,284.4L390.5,281.6L392.1,284.4ZM392.9,284.4L394.5,281.6L396.1,284.4ZM396.9,284.4L398.5,281.6L400.1,284.4ZM400.9,284.4L402.5,281.6L404.1,284.4ZM404.9,284.4L406.5,281.6L408.1,284.4ZM366.9,286.9L368.5,284.1L370.1,286.9ZM370.9,286.9L372.5,284.1L374.1,286.9ZM374.9,286.9L376.5,284.1L378.1,286.9ZM378.9,286.9L380.5,284.1L382.1,286.9ZM382.9,286.9L384.5,284.1L386.1,286.9ZM386.9,286.9L388.5,284.1L390.1,286.9ZM390.9,286.9L392.5,284.1L394.1,286.9ZM394.9,286.9L396.5,284.1L398.1,286.9ZM398.9,286.9L400.5,284.1L402.1,286.9ZM402.9,286.9L404.5,284.1L406.1,286.9ZM368.9,289.2L370.5,286.4L372.1,289.2ZM372.9,289.2L374.5,286.4L376.1,289.2ZM376.9,289.2L378.5,286.4L380.1,289.2ZM380.9,289.2L382.5,286.4L384.1,289.2ZM384.9,289.2L386.5,286.4L388.1,289.2ZM388.9,289.2L390.5,286.4L392.1,289.2ZM392.9,289.2L394.5,286.4L396.1,289.2ZM396.9,289.2L398.5,286.4L400.1,289.2ZM400.9,289.2L402.5,286.4L404.1,289.2ZM366.9,291.9L368.5,289.1L370.1,291.9ZM370.9,291.9L372.5,289.1L374.1,291.9ZM374.9,291.9L376.5,289.1L378.1,291.9ZM378.9,291.9L380.5,289.1L382.1,291.9ZM382.9,291.9L384.5,289.1L386.1,291.9ZM386.9,291.9L388.5,289.1L390.1,291.9ZM390.9,291.9L392.5,289.1L394.1,291.9ZM394.9,291.9L396.5,289.1L398.1,291.9ZM398.9,291.9L400.5,289.1L402.1,291.9ZM402.9,291.9L404.5,289.1L406.1,291.9ZM375.9,294.6L377.5,291.8L379.1,294.6ZM379.9,294.6L381.5,291.8L383.1,294.6ZM383.9,294.6L385.5,291.8L387.1,294.6ZM387.9,294.6L389.5,291.8L391.1,294.6ZM391.9,294.6L393.5,291.8L395.1,294.6ZM377.9,296.9L379.5,294.1L381.1,296.9ZM381.9,296.9L383.5,294.1L385.1,296.9ZM385.9,296.9L387.5,294.1L389.1,296.9ZM389.9,296.9L391.5,294.1L393.1,296.9ZM393.9,296.9L395.5,294.1L397.1,296.9ZM380.9,299.4L382.5,296.6L384.1,299.4ZM384.9,299.4L386.5,296.6L388.1,299.4ZM388.9,299.4L390.5,296.6L392.1,299.4ZM380.9,302.9L382.5,300.1L384.1,302.9ZM388.4,302.9L390.0,300.1L391.6,302.9ZM384.9,305.9L386.5,303.1L388.1,305.9ZM382.9,310.9L384.5,308.1L386.1,310.9ZM386.9,310.9L388.5,308.1L390.1,310.9ZM384.9,324.4L386.5,321.6L388.1,324.4ZM384.9,330.4L386.5,327.6L388.1,330.4ZM441.0,277.9L442.6,275.1L444.2,277.9ZM445.0,277.9L446.6,275.1L448.2,277.9ZM449.0,277.9L450.6,275.1L452.2,277.9ZM453.0,277.9L454.6,275.1L456.2,277.9ZM435.0,280.4L436.6,277.6L438.2,280.4ZM439.0,280.4L440.6,277.6L442.2,280.4ZM443.0,280.4L444.6,277.6L446.2,280.4ZM447.0,280.4L448.6,277.6L450.2,280.4ZM451.0,280.4L452.6,277.6L454.2,280.4ZM455.0,280.4L456.6,277.6L458.2,280.4ZM459.0,280.4L460.6,277.6L462.2,280.4ZM429.0,282.9L430.6,280.1L432.2,282.9ZM433.0,282.9L434.6,280.1L436.2,282.9ZM437.0,282.9L438.6,280.1L440.2,282.9ZM441.0,282.9L442.6,280.1L444.2,282.9ZM445.0,282.9L446.6,280.1L448.2,282.9ZM449.0,282.9L450.6,280.1L452.2,282.9ZM453.0,282.9L454.6,280.1L456.2,282.9ZM457.0,282.9L458.6,280.1L460.2,282.9ZM461.0,282.9L462.6,280.1L464.2,282.9ZM465.0,282.9L466.6,280.1L468.2,282.9ZM431.0,285.1L432.6,282.3L434.2,285.1ZM435.0,285.1L436.6,282.3L438.2,285.1ZM439.0,285.1L440.6,282.3L442.2,285.1ZM443.0,285.1L444.6,282.3L446.2,285.1ZM447.0,285.1L448.6,282.3L450.2,285.1ZM451.0,285.1L452.6,282.3L454.2,285.1ZM455.0,285.1L456.6,282.3L458.2,285.1ZM459.0,285.1L460.6,282.3L462.2,285.1ZM463.0,285.1L464.6,282.3L466.2,285.1ZM429.0,287.9L430.6,285.1L432.2,287.9ZM433.0,287.9L434.6,285.1L436.2,287.9ZM437.0,287.9L438.6,285.1L440.2,287.9ZM441.0,287.9L442.6,285.1L444.2,287.9ZM445.0,287.9L446.6,285.1L448.2,287.9ZM449.0,287.9L450.6,285.1L452.2,287.9ZM453.0,287.9L454.6,285.1L456.2,287.9ZM457.0,287.9L458.6,285.1L460.2,287.9ZM461.0,287.9L462.6,285.1L464.2,287.9ZM465.0,287.9L466.6,285.1L468.2,287.9ZM431.0,290.0L432.6,287.2L434.2,290.0ZM435.0,290.0L436.6,287.2L438.2,290.0ZM439.0,290.0L440.6,287.2L442.2,290.0ZM443.0,290.0L444.6,287.2L446.2,290.0ZM447.0,290.0L448.6,287.2L450.2,290.0ZM451.0,290.0L452.6,287.2L454.2,290.0ZM455.0,290.0L456.6,287.2L458.2,290.0ZM459.0,290.0L460.6,287.2L462.2,290.0ZM463.0,290.0L464.6,287.2L466.2,290.0ZM435.0,293.4L436.6,290.6L438.2,293.4ZM439.0,293.4L440.6,290.6L442.2,293.4ZM443.0,293.4L444.6,290.6L446.2,293.4ZM447.0,293.4L448.6,290.6L450.2,293.4ZM451.0,293.4L452.6,290.6L454.2,293.4ZM455.0,293.4L456.6,290.6L458.2,293.4ZM459.0,293.4L460.6,290.6L462.2,293.4ZM437.0,295.9L438.6,293.1L440.2,295.9ZM441.0,295.9L442.6,293.1L444.2,295.9ZM445.0,295.9L446.6,293.1L448.2,295.9ZM449.0,295.9L450.6,293.1L452.2,295.9ZM453.0,295.9L454.6,293.1L456.2,295.9ZM457.0,295.9L458.6,293.1L460.2,295.9ZM443.0,298.4L444.6,295.6L446.2,298.4ZM447.0,298.4L448.6,295.6L450.2,298.4ZM451.0,298.4L452.6,295.6L454.2,298.4ZM441.4,303.4L443.0,300.6L444.6,303.4ZM444.4,306.6L446.0,303.8L447.6,306.6ZM448.4,306.6L450.0,303.8L451.6,306.6ZM444.1,321.9L445.7,319.1L447.3,321.9ZM448.4,321.9L450.0,319.1L451.6,321.9ZM447.0,343.6L448.6,340.8L450.2,343.6ZM447.0,357.4L448.6,354.6L450.2,357.4Z" fill="#000"/>
<line x1="324.6" y1="311.5" x2="324.6" y2="338.2" stroke="#333" stroke-width="1.2"/>
<line x1="313.85" y1="311.5" x2="335.35" y2="311.5" stroke="#333" stroke-width="1.3"/>
<line x1="313.85" y1="338.2" x2="335.35" y2="338.2" stroke="#333" stroke-width="1.3"/>
<line x1="303.70000000000005" y1="324.8" x2="345.5" y2="324.8" stroke="#000" stroke-width="2"/>
<line x1="386.2" y1="280" x2="386.2" y2="300" stroke="#333" stroke-width="1.2"/>
<line x1="376.45" y1="280" x2="395.95" y2="280" stroke="#333" stroke-width="1.3"/>
<line x1="376.45" y1="300" x2="395.95" y2="300" stroke="#333" stroke-width="1.3"/>
<line x1="365.09999999999997" y1="290.2" x2="407.3" y2="290.2" stroke="#000" stroke-width="2"/>
<line x1="448.6" y1="275.6" x2="448.6" y2="304.8" stroke="#333" stroke-width="1.2"/>
<line x1="438.40000000000003" y1="275.6" x2="458.8" y2="275.6" stroke="#333" stroke-width="1.3"/>
<line x1="438.40000000000003" y1="304.8" x2="458.8" y2="304.8" stroke="#333" stroke-width="1.3"/>
<line x1="427.55" y1="290.1" x2="469.65000000000003" y2="290.1" stroke="#000" stroke-width="2"/>
<text x="326.2" y="399.2" font-size="13.5" font-weight="normal" font-style="normal" text-anchor="middle" fill="#000" >us</text>
<text x="392.2" y="399.5" font-size="13.6" font-weight="normal" font-style="normal" text-anchor="middle" fill="#000" >+CCL19</text>
<text x="454.8" y="399.5" font-size="13.6" font-weight="normal" font-style="normal" text-anchor="middle" fill="#000" >+CCL19</text>
<line x1="291" y1="403.3" x2="421" y2="403.3" stroke="#000" stroke-width="1.5"/>
<line x1="427.3" y1="403.3" x2="484.3" y2="403.3" stroke="#000" stroke-width="1.5"/>
<text x="359.8" y="420.6" font-size="15" font-weight="normal" font-style="normal" text-anchor="middle" fill="#000" >wildtype</text>
<text x="433" y="422" font-size="14" font-weight="normal" font-style="italic" text-anchor="start" fill="#000" >CD81<tspan font-size="15.5" dx="0.8" dy="-5">-/-</tspan></text>
</svg>
</body></html>
